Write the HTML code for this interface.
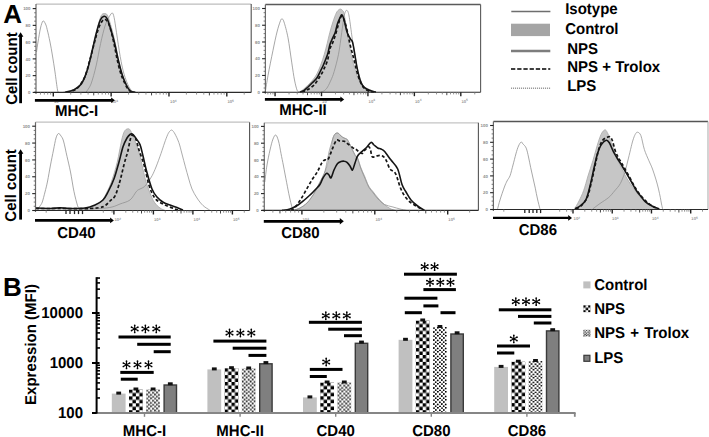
<!DOCTYPE html>
<html><head><meta charset="utf-8"><title>Figure</title>
<style>
html,body{margin:0;padding:0;background:#fff;width:709px;height:437px;overflow:hidden;}
svg{display:block;font-family:"Liberation Sans",sans-serif;}
text{text-rendering:geometricPrecision;}
</style></head><body>
<svg width="709" height="437" viewBox="0 0 709 437">
<defs><pattern id="ck0" patternUnits="userSpaceOnUse" width="6.90" height="6.90" x="129.00" y="389.50"><rect width="6.90" height="6.90" fill="#fff"/><rect width="3.45" height="3.45" fill="#000"/><rect x="3.45" y="3.45" width="3.45" height="3.45" fill="#000"/></pattern><pattern id="dt0" patternUnits="userSpaceOnUse" width="8.00" height="8.00" x="146.20" y="389.50"><rect width="8.00" height="8.00" fill="#fff"/><circle cx="1.00" cy="1.12" r="0.95" fill="#000"/><circle cx="4.88" cy="0.75" r="0.95" fill="#000"/><circle cx="2.88" cy="3.00" r="0.95" fill="#000"/><circle cx="6.88" cy="3.25" r="0.95" fill="#000"/><circle cx="0.88" cy="5.00" r="0.95" fill="#000"/><circle cx="4.75" cy="5.38" r="0.95" fill="#000"/><circle cx="2.75" cy="7.12" r="0.95" fill="#000"/><circle cx="7.00" cy="7.38" r="0.95" fill="#000"/></pattern><pattern id="ck1" patternUnits="userSpaceOnUse" width="6.90" height="6.90" x="224.60" y="368.20"><rect width="6.90" height="6.90" fill="#fff"/><rect width="3.45" height="3.45" fill="#000"/><rect x="3.45" y="3.45" width="3.45" height="3.45" fill="#000"/></pattern><pattern id="dt1" patternUnits="userSpaceOnUse" width="8.00" height="8.00" x="241.80" y="368.50"><rect width="8.00" height="8.00" fill="#fff"/><circle cx="1.00" cy="1.12" r="0.95" fill="#000"/><circle cx="4.88" cy="0.75" r="0.95" fill="#000"/><circle cx="2.88" cy="3.00" r="0.95" fill="#000"/><circle cx="6.88" cy="3.25" r="0.95" fill="#000"/><circle cx="0.88" cy="5.00" r="0.95" fill="#000"/><circle cx="4.75" cy="5.38" r="0.95" fill="#000"/><circle cx="2.75" cy="7.12" r="0.95" fill="#000"/><circle cx="7.00" cy="7.38" r="0.95" fill="#000"/></pattern><pattern id="ck2" patternUnits="userSpaceOnUse" width="6.90" height="6.90" x="320.20" y="382.50"><rect width="6.90" height="6.90" fill="#fff"/><rect width="3.45" height="3.45" fill="#000"/><rect x="3.45" y="3.45" width="3.45" height="3.45" fill="#000"/></pattern><pattern id="dt2" patternUnits="userSpaceOnUse" width="8.00" height="8.00" x="337.40" y="382.50"><rect width="8.00" height="8.00" fill="#fff"/><circle cx="1.00" cy="1.12" r="0.95" fill="#000"/><circle cx="4.88" cy="0.75" r="0.95" fill="#000"/><circle cx="2.88" cy="3.00" r="0.95" fill="#000"/><circle cx="6.88" cy="3.25" r="0.95" fill="#000"/><circle cx="0.88" cy="5.00" r="0.95" fill="#000"/><circle cx="4.75" cy="5.38" r="0.95" fill="#000"/><circle cx="2.75" cy="7.12" r="0.95" fill="#000"/><circle cx="7.00" cy="7.38" r="0.95" fill="#000"/></pattern><pattern id="ck3" patternUnits="userSpaceOnUse" width="6.90" height="6.90" x="415.80" y="320.50"><rect width="6.90" height="6.90" fill="#fff"/><rect width="3.45" height="3.45" fill="#000"/><rect x="3.45" y="3.45" width="3.45" height="3.45" fill="#000"/></pattern><pattern id="dt3" patternUnits="userSpaceOnUse" width="8.00" height="8.00" x="433.00" y="327.00"><rect width="8.00" height="8.00" fill="#fff"/><circle cx="1.00" cy="1.12" r="0.95" fill="#000"/><circle cx="4.88" cy="0.75" r="0.95" fill="#000"/><circle cx="2.88" cy="3.00" r="0.95" fill="#000"/><circle cx="6.88" cy="3.25" r="0.95" fill="#000"/><circle cx="0.88" cy="5.00" r="0.95" fill="#000"/><circle cx="4.75" cy="5.38" r="0.95" fill="#000"/><circle cx="2.75" cy="7.12" r="0.95" fill="#000"/><circle cx="7.00" cy="7.38" r="0.95" fill="#000"/></pattern><pattern id="ck4" patternUnits="userSpaceOnUse" width="6.90" height="6.90" x="511.40" y="361.70"><rect width="6.90" height="6.90" fill="#fff"/><rect width="3.45" height="3.45" fill="#000"/><rect x="3.45" y="3.45" width="3.45" height="3.45" fill="#000"/></pattern><pattern id="dt4" patternUnits="userSpaceOnUse" width="8.00" height="8.00" x="528.60" y="361.00"><rect width="8.00" height="8.00" fill="#fff"/><circle cx="1.00" cy="1.12" r="0.95" fill="#000"/><circle cx="4.88" cy="0.75" r="0.95" fill="#000"/><circle cx="2.88" cy="3.00" r="0.95" fill="#000"/><circle cx="6.88" cy="3.25" r="0.95" fill="#000"/><circle cx="0.88" cy="5.00" r="0.95" fill="#000"/><circle cx="4.75" cy="5.38" r="0.95" fill="#000"/><circle cx="2.75" cy="7.12" r="0.95" fill="#000"/><circle cx="7.00" cy="7.38" r="0.95" fill="#000"/></pattern><pattern id="ckL" patternUnits="userSpaceOnUse" width="5.00" height="5.00" x="583.20" y="305.20"><rect width="5.00" height="5.00" fill="#fff"/><rect width="2.50" height="2.50" fill="#000"/><rect x="2.50" y="2.50" width="2.50" height="2.50" fill="#000"/></pattern><pattern id="dtL" patternUnits="userSpaceOnUse" width="5.44" height="5.44" x="583.20" y="329.80"><rect width="5.44" height="5.44" fill="#fff"/><circle cx="0.68" cy="0.77" r="0.72" fill="#000"/><circle cx="3.31" cy="0.51" r="0.72" fill="#000"/><circle cx="1.95" cy="2.04" r="0.72" fill="#000"/><circle cx="4.67" cy="2.21" r="0.72" fill="#000"/><circle cx="0.59" cy="3.40" r="0.72" fill="#000"/><circle cx="3.23" cy="3.65" r="0.72" fill="#000"/><circle cx="1.87" cy="4.84" r="0.72" fill="#000"/><circle cx="4.76" cy="5.02" r="0.72" fill="#000"/></pattern></defs>
<path d="M63.3,92.2 C64.6,91.9 68.8,91.4 71.3,90.5 C73.8,89.6 76.3,88.9 78.3,87.0 C80.3,85.1 81.5,82.7 83.3,79.0 C85.1,75.3 87.1,70.9 88.9,65.0 C90.7,59.1 92.7,50.2 94.3,43.5 C95.9,36.8 97.1,29.7 98.3,25.0 C99.5,20.3 100.3,17.4 101.3,15.5 C102.3,13.6 103.3,13.6 104.3,13.5 C105.3,13.4 106.4,13.6 107.3,15.0 C108.2,16.4 108.9,19.1 109.8,22.0 C110.7,24.9 111.7,28.3 112.8,32.6 C113.9,36.9 115.2,42.6 116.3,48.0 C117.4,53.4 118.3,60.5 119.3,65.0 C120.3,69.5 121.2,72.1 122.3,75.0 C123.4,77.9 124.7,80.3 125.9,82.6 C127.1,84.9 127.9,87.4 129.3,89.0 C130.7,90.6 133.5,91.7 134.3,92.2 L134.3,92.4 L63.3,92.4 Z" fill="#c6c6c6" stroke="none"/>
<path d="M63.3,92.2 C64.6,91.9 68.8,91.4 71.3,90.5 C73.8,89.6 76.3,88.9 78.3,87.0 C80.3,85.1 81.5,82.7 83.3,79.0 C85.1,75.3 87.1,70.9 88.9,65.0 C90.7,59.1 92.7,50.2 94.3,43.5 C95.9,36.8 97.1,29.7 98.3,25.0 C99.5,20.3 100.3,17.4 101.3,15.5 C102.3,13.6 103.3,13.6 104.3,13.5 C105.3,13.4 106.4,13.6 107.3,15.0 C108.2,16.4 108.9,19.1 109.8,22.0 C110.7,24.9 111.7,28.3 112.8,32.6 C113.9,36.9 115.2,42.6 116.3,48.0 C117.4,53.4 118.3,60.5 119.3,65.0 C120.3,69.5 121.2,72.1 122.3,75.0 C123.4,77.9 124.7,80.3 125.9,82.6 C127.1,84.9 127.9,87.4 129.3,89.0 C130.7,90.6 133.5,91.7 134.3,92.2" fill="none" stroke="#adadad" stroke-width="0.9"/>
<path d="M36.5,52.0 C36.8,50.3 37.3,46.0 38.0,42.0 C38.7,38.0 39.7,31.5 40.5,28.0 C41.3,24.5 42.2,21.7 43.0,21.0 C43.8,20.3 44.8,22.6 45.5,24.0 C46.2,25.4 46.5,26.6 47.2,29.6 C48.0,32.6 49.1,37.6 50.0,42.0 C50.9,46.4 51.7,51.0 52.5,56.0 C53.3,61.0 54.2,66.3 55.0,72.0 C55.8,77.7 56.9,86.6 57.5,90.0 C58.1,93.4 58.6,91.8 58.8,92.2" fill="none" stroke="#8a8a8a" stroke-width="0.75"/>
<path d="M86.0,92.2 C86.8,90.8 89.3,88.5 91.0,84.0 C92.7,79.5 94.7,71.8 96.3,65.0 C97.9,58.2 99.1,50.0 100.6,43.5 C102.0,37.0 103.7,30.2 105.0,26.0 C106.3,21.8 107.1,20.7 108.3,18.5 C109.5,16.3 111.0,13.2 112.0,13.0 C113.0,12.8 113.3,14.1 114.1,17.4 C114.8,20.7 115.5,26.1 116.5,32.6 C117.5,39.1 119.0,49.6 120.2,56.5 C121.5,63.4 122.5,68.9 124.0,74.0 C125.5,79.1 127.5,84.0 129.0,87.0 C130.5,90.0 132.3,91.3 133.0,92.2" fill="none" stroke="#8f8f8f" stroke-width="0.75"/>
<path d="M65.3,92.2 C66.6,91.8 70.6,91.4 73.3,90.0 C76.0,88.6 79.0,87.3 81.3,84.0 C83.6,80.7 85.5,75.7 87.3,70.0 C89.1,64.3 90.8,56.2 92.3,50.0 C93.8,43.8 95.0,38.0 96.3,33.0 C97.6,28.0 99.0,22.8 100.3,20.0 C101.6,17.2 102.9,16.5 104.1,16.3 C105.3,16.1 106.3,17.1 107.3,19.0 C108.3,20.9 109.1,24.2 110.3,28.0 C111.5,31.8 113.0,36.7 114.3,42.0 C115.6,47.3 117.0,54.5 118.3,60.0 C119.6,65.5 121.0,70.8 122.3,75.0 C123.6,79.2 125.0,82.3 126.3,85.0 C127.6,87.7 128.8,89.8 130.3,91.0 C131.8,92.2 134.5,92.0 135.3,92.2" fill="none" stroke="#151515" stroke-width="1.6" stroke-linejoin="round"/>
<path d="M67.3,92.2 C68.8,91.7 73.5,91.4 76.3,89.0 C79.1,86.6 82.1,82.5 84.3,78.0 C86.5,73.5 87.6,67.8 89.3,62.0 C91.0,56.2 92.8,48.5 94.3,43.0 C95.8,37.5 97.0,32.7 98.3,29.0 C99.6,25.3 101.1,22.6 102.3,21.0 C103.5,19.4 104.3,19.2 105.3,19.5 C106.3,19.8 107.3,20.9 108.3,23.0 C109.3,25.1 110.3,28.3 111.3,32.0 C112.3,35.7 113.3,40.3 114.3,45.0 C115.3,49.7 116.3,55.5 117.3,60.0 C118.3,64.5 119.3,68.7 120.3,72.0 C121.3,75.3 122.1,77.3 123.3,80.0 C124.5,82.7 126.0,86.0 127.3,88.0 C128.6,90.0 130.6,91.5 131.3,92.2" fill="none" stroke="#151515" stroke-width="1.7" stroke-dasharray="3.2,2.2"/>
<line x1="36.0" y1="4.1" x2="251.2" y2="4.1" stroke="#bdbdbd" stroke-width="1.3"/>
<line x1="251.2" y1="4.1" x2="251.2" y2="92.4" stroke="#505050" stroke-width="1.1"/>
<line x1="36.0" y1="4.1" x2="36.0" y2="93.9" stroke="#6a6a6a" stroke-width="1.2"/>
<line x1="34.0" y1="92.4" x2="251.2" y2="92.4" stroke="#2a2a2a" stroke-width="1.1"/>
<line x1="32.7" y1="92.40" x2="36.0" y2="92.40" stroke="#222" stroke-width="1.1"/>
<line x1="34.2" y1="88.21" x2="36.0" y2="88.21" stroke="#666" stroke-width="0.9"/>
<line x1="34.2" y1="84.02" x2="36.0" y2="84.02" stroke="#666" stroke-width="0.9"/>
<line x1="34.2" y1="79.83" x2="36.0" y2="79.83" stroke="#666" stroke-width="0.9"/>
<line x1="32.7" y1="75.64" x2="36.0" y2="75.64" stroke="#222" stroke-width="1.1"/>
<line x1="34.2" y1="71.45" x2="36.0" y2="71.45" stroke="#666" stroke-width="0.9"/>
<line x1="34.2" y1="67.26" x2="36.0" y2="67.26" stroke="#666" stroke-width="0.9"/>
<line x1="34.2" y1="63.07" x2="36.0" y2="63.07" stroke="#666" stroke-width="0.9"/>
<line x1="32.7" y1="58.88" x2="36.0" y2="58.88" stroke="#222" stroke-width="1.1"/>
<line x1="34.2" y1="54.69" x2="36.0" y2="54.69" stroke="#666" stroke-width="0.9"/>
<line x1="34.2" y1="50.50" x2="36.0" y2="50.50" stroke="#666" stroke-width="0.9"/>
<line x1="34.2" y1="46.31" x2="36.0" y2="46.31" stroke="#666" stroke-width="0.9"/>
<line x1="32.7" y1="42.12" x2="36.0" y2="42.12" stroke="#222" stroke-width="1.1"/>
<line x1="34.2" y1="37.93" x2="36.0" y2="37.93" stroke="#666" stroke-width="0.9"/>
<line x1="34.2" y1="33.74" x2="36.0" y2="33.74" stroke="#666" stroke-width="0.9"/>
<line x1="34.2" y1="29.55" x2="36.0" y2="29.55" stroke="#666" stroke-width="0.9"/>
<line x1="32.7" y1="25.36" x2="36.0" y2="25.36" stroke="#222" stroke-width="1.1"/>
<line x1="34.2" y1="21.17" x2="36.0" y2="21.17" stroke="#666" stroke-width="0.9"/>
<line x1="34.2" y1="16.98" x2="36.0" y2="16.98" stroke="#666" stroke-width="0.9"/>
<line x1="34.2" y1="12.79" x2="36.0" y2="12.79" stroke="#666" stroke-width="0.9"/>
<line x1="32.7" y1="8.60" x2="36.0" y2="8.60" stroke="#222" stroke-width="1.1"/>
<text x="30.5" y="94.0" font-size="4.4" font-weight="bold" fill="#909090" text-anchor="end" font-family="'Liberation Sans', sans-serif">0</text>
<text x="30.5" y="77.2" font-size="4.4" font-weight="bold" fill="#909090" text-anchor="end" font-family="'Liberation Sans', sans-serif">20</text>
<text x="30.5" y="60.5" font-size="4.4" font-weight="bold" fill="#909090" text-anchor="end" font-family="'Liberation Sans', sans-serif">40</text>
<text x="30.5" y="43.7" font-size="4.4" font-weight="bold" fill="#909090" text-anchor="end" font-family="'Liberation Sans', sans-serif">60</text>
<text x="30.5" y="27.0" font-size="4.4" font-weight="bold" fill="#909090" text-anchor="end" font-family="'Liberation Sans', sans-serif">80</text>
<text x="30.5" y="10.2" font-size="4.4" font-weight="bold" fill="#909090" text-anchor="end" font-family="'Liberation Sans', sans-serif">100</text>
<line x1="40.47" y1="92.4" x2="40.47" y2="94.6" stroke="#777" stroke-width="0.8"/>
<line x1="44.34" y1="92.4" x2="44.34" y2="94.6" stroke="#777" stroke-width="0.8"/>
<line x1="47.70" y1="92.4" x2="47.70" y2="94.6" stroke="#777" stroke-width="0.8"/>
<line x1="50.65" y1="92.4" x2="50.65" y2="94.6" stroke="#777" stroke-width="0.8"/>
<line x1="53.30" y1="92.4" x2="53.30" y2="96.4" stroke="#222" stroke-width="1.4"/>
<line x1="70.71" y1="92.4" x2="70.71" y2="94.6" stroke="#777" stroke-width="0.8"/>
<line x1="80.89" y1="92.4" x2="80.89" y2="94.6" stroke="#777" stroke-width="0.8"/>
<line x1="88.12" y1="92.4" x2="88.12" y2="94.6" stroke="#777" stroke-width="0.8"/>
<line x1="93.72" y1="92.4" x2="93.72" y2="95.4" stroke="#444" stroke-width="1"/>
<line x1="98.30" y1="92.4" x2="98.30" y2="94.6" stroke="#777" stroke-width="0.8"/>
<line x1="102.17" y1="92.4" x2="102.17" y2="94.6" stroke="#777" stroke-width="0.8"/>
<line x1="105.53" y1="92.4" x2="105.53" y2="94.6" stroke="#777" stroke-width="0.8"/>
<line x1="108.49" y1="92.4" x2="108.49" y2="94.6" stroke="#777" stroke-width="0.8"/>
<line x1="111.13" y1="92.4" x2="111.13" y2="96.4" stroke="#222" stroke-width="1.4"/>
<line x1="128.54" y1="92.4" x2="128.54" y2="94.6" stroke="#777" stroke-width="0.8"/>
<line x1="138.73" y1="92.4" x2="138.73" y2="94.6" stroke="#777" stroke-width="0.8"/>
<line x1="145.95" y1="92.4" x2="145.95" y2="94.6" stroke="#777" stroke-width="0.8"/>
<line x1="151.56" y1="92.4" x2="151.56" y2="95.4" stroke="#444" stroke-width="1"/>
<line x1="156.14" y1="92.4" x2="156.14" y2="94.6" stroke="#777" stroke-width="0.8"/>
<line x1="160.01" y1="92.4" x2="160.01" y2="94.6" stroke="#777" stroke-width="0.8"/>
<line x1="163.36" y1="92.4" x2="163.36" y2="94.6" stroke="#777" stroke-width="0.8"/>
<line x1="166.32" y1="92.4" x2="166.32" y2="94.6" stroke="#777" stroke-width="0.8"/>
<line x1="168.97" y1="92.4" x2="168.97" y2="96.4" stroke="#222" stroke-width="1.4"/>
<line x1="186.38" y1="92.4" x2="186.38" y2="94.6" stroke="#777" stroke-width="0.8"/>
<line x1="196.56" y1="92.4" x2="196.56" y2="94.6" stroke="#777" stroke-width="0.8"/>
<line x1="203.79" y1="92.4" x2="203.79" y2="94.6" stroke="#777" stroke-width="0.8"/>
<line x1="209.39" y1="92.4" x2="209.39" y2="95.4" stroke="#444" stroke-width="1"/>
<line x1="213.97" y1="92.4" x2="213.97" y2="94.6" stroke="#777" stroke-width="0.8"/>
<line x1="217.84" y1="92.4" x2="217.84" y2="94.6" stroke="#777" stroke-width="0.8"/>
<line x1="221.20" y1="92.4" x2="221.20" y2="94.6" stroke="#777" stroke-width="0.8"/>
<line x1="224.15" y1="92.4" x2="224.15" y2="94.6" stroke="#777" stroke-width="0.8"/>
<line x1="226.80" y1="92.4" x2="226.80" y2="96.4" stroke="#222" stroke-width="1.4"/>
<line x1="244.21" y1="92.4" x2="244.21" y2="94.6" stroke="#777" stroke-width="0.8"/>
<text x="53.9" y="103.3" font-size="4.2" font-weight="bold" fill="#9a9a9a" font-family="'Liberation Sans', sans-serif">10<tspan dy="-1.7" font-size="3.2">2</tspan></text>
<text x="111.5" y="103.3" font-size="4.2" font-weight="bold" fill="#9a9a9a" font-family="'Liberation Sans', sans-serif">10<tspan dy="-1.7" font-size="3.2">3</tspan></text>
<text x="170.1" y="103.3" font-size="4.2" font-weight="bold" fill="#9a9a9a" font-family="'Liberation Sans', sans-serif">10<tspan dy="-1.7" font-size="3.2">4</tspan></text>
<text x="227.4" y="103.3" font-size="4.2" font-weight="bold" fill="#9a9a9a" font-family="'Liberation Sans', sans-serif">10<tspan dy="-1.7" font-size="3.2">5</tspan></text>
<path d="M298.5,92.0 C299.1,91.8 300.8,91.3 302.0,90.5 C303.2,89.7 304.6,88.2 305.9,87.0 C307.2,85.8 308.4,84.8 310.0,83.0 C311.6,81.2 313.9,79.0 315.7,76.0 C317.5,73.0 319.3,68.8 320.7,65.2 C322.1,61.6 323.2,57.9 324.3,54.3 C325.4,50.7 326.3,47.1 327.2,43.5 C328.1,39.9 328.8,36.2 329.8,32.6 C330.8,29.0 331.9,25.0 333.0,21.7 C334.1,18.4 335.4,14.9 336.3,13.0 C337.2,11.1 337.8,10.7 338.5,10.0 C339.2,9.3 340.0,9.0 340.7,9.1 C341.4,9.2 342.0,9.8 342.5,10.5 C343.0,11.2 343.3,10.4 343.9,13.0 C344.5,15.6 345.4,21.7 346.1,26.0 C346.8,30.3 347.6,35.0 348.3,39.0 C349.0,43.0 349.7,46.3 350.4,50.0 C351.1,53.7 351.7,57.4 352.6,61.0 C353.5,64.6 354.8,68.5 355.9,71.7 C357.0,74.9 357.7,77.9 359.1,80.4 C360.6,83.0 362.6,85.4 364.6,87.0 C366.6,88.6 369.1,89.4 371.0,90.2 C372.9,91.0 375.2,91.7 376.0,92.0 L376.0,92.2 L298.5,92.2 Z" fill="#c6c6c6" stroke="none"/>
<path d="M298.5,92.0 C299.1,91.8 300.8,91.3 302.0,90.5 C303.2,89.7 304.6,88.2 305.9,87.0 C307.2,85.8 308.4,84.8 310.0,83.0 C311.6,81.2 313.9,79.0 315.7,76.0 C317.5,73.0 319.3,68.8 320.7,65.2 C322.1,61.6 323.2,57.9 324.3,54.3 C325.4,50.7 326.3,47.1 327.2,43.5 C328.1,39.9 328.8,36.2 329.8,32.6 C330.8,29.0 331.9,25.0 333.0,21.7 C334.1,18.4 335.4,14.9 336.3,13.0 C337.2,11.1 337.8,10.7 338.5,10.0 C339.2,9.3 340.0,9.0 340.7,9.1 C341.4,9.2 342.0,9.8 342.5,10.5 C343.0,11.2 343.3,10.4 343.9,13.0 C344.5,15.6 345.4,21.7 346.1,26.0 C346.8,30.3 347.6,35.0 348.3,39.0 C349.0,43.0 349.7,46.3 350.4,50.0 C351.1,53.7 351.7,57.4 352.6,61.0 C353.5,64.6 354.8,68.5 355.9,71.7 C357.0,74.9 357.7,77.9 359.1,80.4 C360.6,83.0 362.6,85.4 364.6,87.0 C366.6,88.6 369.1,89.4 371.0,90.2 C372.9,91.0 375.2,91.7 376.0,92.0" fill="none" stroke="#adadad" stroke-width="0.9"/>
<path d="M265.6,90.0 C266.0,87.6 266.8,82.1 268.0,75.5 C269.2,68.9 271.5,57.5 273.0,50.3 C274.5,43.0 275.8,36.7 277.0,32.0 C278.2,27.3 279.2,24.2 280.0,22.0 C280.8,19.8 281.1,18.9 281.8,18.9 C282.5,18.9 283.0,18.9 284.0,22.0 C285.0,25.1 286.7,30.9 288.0,37.7 C289.3,44.5 290.7,55.9 291.8,62.9 C292.9,70.0 293.6,75.5 294.5,80.0 C295.4,84.5 296.3,88.0 297.0,90.0 C297.7,92.0 298.2,91.5 298.5,91.8" fill="none" stroke="#8a8a8a" stroke-width="0.75"/>
<path d="M321.0,92.0 C321.6,91.8 323.4,91.3 324.5,90.5 C325.6,89.7 326.5,88.8 327.6,87.0 C328.7,85.2 329.9,82.5 331.0,80.0 C332.1,77.5 332.9,76.0 334.1,71.7 C335.4,67.4 337.2,60.8 338.5,54.3 C339.8,47.8 340.8,38.8 341.7,32.6 C342.6,26.5 343.3,20.9 343.9,17.4 C344.5,13.9 345.0,12.7 345.5,11.5 C346.0,10.3 346.3,10.3 346.7,10.4 C347.1,10.5 347.6,10.6 348.0,11.8 C348.4,13.0 348.6,13.2 349.3,17.4 C350.0,21.6 351.3,31.9 352.0,37.0 C352.7,42.1 353.1,43.8 353.7,47.8 C354.3,51.8 355.2,56.9 355.9,60.9 C356.6,64.9 357.1,68.4 358.0,71.7 C358.9,75.0 360.0,78.4 361.0,81.0 C362.0,83.6 362.8,85.8 364.0,87.5 C365.2,89.2 366.7,90.2 368.0,91.0 C369.3,91.8 371.3,91.8 372.0,92.0" fill="none" stroke="#8f8f8f" stroke-width="0.75"/>
<path d="M300.0,92.0 C300.7,91.8 302.7,91.3 304.0,90.5 C305.3,89.7 306.7,88.2 308.0,87.0 C309.3,85.8 310.6,84.5 312.0,83.0 C313.4,81.5 315.4,80.1 316.7,78.3 C318.0,76.5 318.9,74.2 320.0,72.0 C321.1,69.8 322.0,68.2 323.3,65.2 C324.6,62.2 326.5,57.7 327.6,54.3 C328.7,50.9 329.1,47.5 329.8,45.0 C330.5,42.5 331.1,41.6 332.0,39.5 C332.9,37.4 334.3,35.2 335.2,32.6 C336.1,30.0 336.5,26.7 337.4,24.0 C338.3,21.3 340.0,17.8 340.7,16.3 C341.4,14.8 341.3,14.8 341.7,14.8 C342.1,14.8 342.5,15.3 343.0,16.5 C343.5,17.6 343.9,19.0 344.6,21.7 C345.3,24.4 346.2,29.7 347.2,32.6 C348.2,35.5 349.5,37.4 350.4,39.0 C351.3,40.6 351.9,39.9 352.6,42.4 C353.3,44.9 354.1,50.1 354.8,54.3 C355.5,58.5 356.1,63.1 357.0,67.4 C357.9,71.8 359.2,77.3 360.2,80.4 C361.2,83.5 361.9,84.6 363.0,86.0 C364.1,87.4 365.0,88.1 366.7,89.0 C368.4,89.9 371.4,91.0 373.0,91.5 C374.6,92.0 375.5,91.9 376.0,92.0" fill="none" stroke="#151515" stroke-width="1.6" stroke-linejoin="round"/>
<path d="M302.0,92.0 C303.0,91.6 306.0,90.7 308.0,89.5 C310.0,88.3 312.2,86.9 314.0,85.0 C315.8,83.1 317.4,80.5 319.0,78.0 C320.6,75.5 322.1,73.0 323.5,70.0 C324.9,67.0 326.6,63.5 327.6,60.0 C328.7,56.5 328.9,52.0 329.8,49.0 C330.7,46.0 332.0,44.7 333.0,42.0 C334.0,39.3 335.1,36.0 336.0,33.0 C336.9,30.0 337.8,26.5 338.5,24.0 C339.2,21.5 339.8,19.3 340.3,18.0 C340.8,16.7 341.2,16.2 341.7,16.3 C342.2,16.4 342.8,16.9 343.5,18.5 C344.2,20.1 345.2,22.9 346.0,26.0 C346.8,29.1 347.8,33.7 348.5,37.0 C349.2,40.3 349.7,43.1 350.4,46.0 C351.1,48.9 351.9,51.5 352.6,54.3 C353.3,57.1 354.1,60.0 354.8,63.0 C355.5,66.0 356.1,69.0 357.0,72.0 C357.9,75.0 358.8,78.3 360.0,81.0 C361.2,83.7 362.3,86.2 364.0,88.0 C365.7,89.8 368.3,90.8 370.0,91.5 C371.7,92.2 373.3,91.9 374.0,92.0" fill="none" stroke="#151515" stroke-width="1.7" stroke-dasharray="3.2,2.2"/>
<line x1="265.4" y1="4.5" x2="480.6" y2="4.5" stroke="#5a5a5a" stroke-width="1.3"/>
<line x1="480.6" y1="4.5" x2="480.6" y2="92.2" stroke="#5a5a5a" stroke-width="1.1"/>
<line x1="265.4" y1="4.5" x2="265.4" y2="93.7" stroke="#6a6a6a" stroke-width="1.2"/>
<line x1="263.4" y1="92.2" x2="480.6" y2="92.2" stroke="#2a2a2a" stroke-width="1.1"/>
<line x1="262.1" y1="92.20" x2="265.4" y2="92.20" stroke="#222" stroke-width="1.1"/>
<line x1="263.6" y1="88.02" x2="265.4" y2="88.02" stroke="#666" stroke-width="0.9"/>
<line x1="263.6" y1="83.83" x2="265.4" y2="83.83" stroke="#666" stroke-width="0.9"/>
<line x1="263.6" y1="79.64" x2="265.4" y2="79.64" stroke="#666" stroke-width="0.9"/>
<line x1="262.1" y1="75.46" x2="265.4" y2="75.46" stroke="#222" stroke-width="1.1"/>
<line x1="263.6" y1="71.28" x2="265.4" y2="71.28" stroke="#666" stroke-width="0.9"/>
<line x1="263.6" y1="67.09" x2="265.4" y2="67.09" stroke="#666" stroke-width="0.9"/>
<line x1="263.6" y1="62.91" x2="265.4" y2="62.91" stroke="#666" stroke-width="0.9"/>
<line x1="262.1" y1="58.72" x2="265.4" y2="58.72" stroke="#222" stroke-width="1.1"/>
<line x1="263.6" y1="54.53" x2="265.4" y2="54.53" stroke="#666" stroke-width="0.9"/>
<line x1="263.6" y1="50.35" x2="265.4" y2="50.35" stroke="#666" stroke-width="0.9"/>
<line x1="263.6" y1="46.16" x2="265.4" y2="46.16" stroke="#666" stroke-width="0.9"/>
<line x1="262.1" y1="41.98" x2="265.4" y2="41.98" stroke="#222" stroke-width="1.1"/>
<line x1="263.6" y1="37.79" x2="265.4" y2="37.79" stroke="#666" stroke-width="0.9"/>
<line x1="263.6" y1="33.61" x2="265.4" y2="33.61" stroke="#666" stroke-width="0.9"/>
<line x1="263.6" y1="29.42" x2="265.4" y2="29.42" stroke="#666" stroke-width="0.9"/>
<line x1="262.1" y1="25.24" x2="265.4" y2="25.24" stroke="#222" stroke-width="1.1"/>
<line x1="263.6" y1="21.05" x2="265.4" y2="21.05" stroke="#666" stroke-width="0.9"/>
<line x1="263.6" y1="16.87" x2="265.4" y2="16.87" stroke="#666" stroke-width="0.9"/>
<line x1="263.6" y1="12.69" x2="265.4" y2="12.69" stroke="#666" stroke-width="0.9"/>
<line x1="262.1" y1="8.50" x2="265.4" y2="8.50" stroke="#222" stroke-width="1.1"/>
<text x="259.9" y="93.8" font-size="4.4" font-weight="bold" fill="#909090" text-anchor="end" font-family="'Liberation Sans', sans-serif">0</text>
<text x="259.9" y="77.1" font-size="4.4" font-weight="bold" fill="#909090" text-anchor="end" font-family="'Liberation Sans', sans-serif">20</text>
<text x="259.9" y="60.3" font-size="4.4" font-weight="bold" fill="#909090" text-anchor="end" font-family="'Liberation Sans', sans-serif">40</text>
<text x="259.9" y="43.6" font-size="4.4" font-weight="bold" fill="#909090" text-anchor="end" font-family="'Liberation Sans', sans-serif">60</text>
<text x="259.9" y="26.8" font-size="4.4" font-weight="bold" fill="#909090" text-anchor="end" font-family="'Liberation Sans', sans-serif">80</text>
<text x="259.9" y="10.1" font-size="4.4" font-weight="bold" fill="#909090" text-anchor="end" font-family="'Liberation Sans', sans-serif">100</text>
<line x1="267.87" y1="92.2" x2="267.87" y2="94.4" stroke="#777" stroke-width="0.8"/>
<line x1="270.57" y1="92.2" x2="270.57" y2="94.4" stroke="#777" stroke-width="0.8"/>
<line x1="272.94" y1="92.2" x2="272.94" y2="94.4" stroke="#777" stroke-width="0.8"/>
<line x1="275.07" y1="92.2" x2="275.07" y2="96.2" stroke="#222" stroke-width="1.4"/>
<line x1="289.04" y1="92.2" x2="289.04" y2="94.4" stroke="#777" stroke-width="0.8"/>
<line x1="297.22" y1="92.2" x2="297.22" y2="94.4" stroke="#777" stroke-width="0.8"/>
<line x1="303.02" y1="92.2" x2="303.02" y2="94.4" stroke="#777" stroke-width="0.8"/>
<line x1="307.52" y1="92.2" x2="307.52" y2="95.2" stroke="#444" stroke-width="1"/>
<line x1="311.20" y1="92.2" x2="311.20" y2="94.4" stroke="#777" stroke-width="0.8"/>
<line x1="314.31" y1="92.2" x2="314.31" y2="94.4" stroke="#777" stroke-width="0.8"/>
<line x1="317.00" y1="92.2" x2="317.00" y2="94.4" stroke="#777" stroke-width="0.8"/>
<line x1="319.38" y1="92.2" x2="319.38" y2="94.4" stroke="#777" stroke-width="0.8"/>
<line x1="321.50" y1="92.2" x2="321.50" y2="96.2" stroke="#222" stroke-width="1.4"/>
<line x1="335.48" y1="92.2" x2="335.48" y2="94.4" stroke="#777" stroke-width="0.8"/>
<line x1="343.65" y1="92.2" x2="343.65" y2="94.4" stroke="#777" stroke-width="0.8"/>
<line x1="349.46" y1="92.2" x2="349.46" y2="94.4" stroke="#777" stroke-width="0.8"/>
<line x1="353.96" y1="92.2" x2="353.96" y2="95.2" stroke="#444" stroke-width="1"/>
<line x1="357.63" y1="92.2" x2="357.63" y2="94.4" stroke="#777" stroke-width="0.8"/>
<line x1="360.74" y1="92.2" x2="360.74" y2="94.4" stroke="#777" stroke-width="0.8"/>
<line x1="363.43" y1="92.2" x2="363.43" y2="94.4" stroke="#777" stroke-width="0.8"/>
<line x1="365.81" y1="92.2" x2="365.81" y2="94.4" stroke="#777" stroke-width="0.8"/>
<line x1="367.93" y1="92.2" x2="367.93" y2="96.2" stroke="#222" stroke-width="1.4"/>
<line x1="381.91" y1="92.2" x2="381.91" y2="94.4" stroke="#777" stroke-width="0.8"/>
<line x1="390.09" y1="92.2" x2="390.09" y2="94.4" stroke="#777" stroke-width="0.8"/>
<line x1="395.89" y1="92.2" x2="395.89" y2="94.4" stroke="#777" stroke-width="0.8"/>
<line x1="400.39" y1="92.2" x2="400.39" y2="95.2" stroke="#444" stroke-width="1"/>
<line x1="404.07" y1="92.2" x2="404.07" y2="94.4" stroke="#777" stroke-width="0.8"/>
<line x1="407.17" y1="92.2" x2="407.17" y2="94.4" stroke="#777" stroke-width="0.8"/>
<line x1="409.87" y1="92.2" x2="409.87" y2="94.4" stroke="#777" stroke-width="0.8"/>
<line x1="412.24" y1="92.2" x2="412.24" y2="94.4" stroke="#777" stroke-width="0.8"/>
<line x1="414.37" y1="92.2" x2="414.37" y2="96.2" stroke="#222" stroke-width="1.4"/>
<line x1="428.34" y1="92.2" x2="428.34" y2="94.4" stroke="#777" stroke-width="0.8"/>
<line x1="436.52" y1="92.2" x2="436.52" y2="94.4" stroke="#777" stroke-width="0.8"/>
<line x1="442.32" y1="92.2" x2="442.32" y2="94.4" stroke="#777" stroke-width="0.8"/>
<line x1="446.82" y1="92.2" x2="446.82" y2="95.2" stroke="#444" stroke-width="1"/>
<line x1="450.50" y1="92.2" x2="450.50" y2="94.4" stroke="#777" stroke-width="0.8"/>
<line x1="453.61" y1="92.2" x2="453.61" y2="94.4" stroke="#777" stroke-width="0.8"/>
<line x1="456.30" y1="92.2" x2="456.30" y2="94.4" stroke="#777" stroke-width="0.8"/>
<line x1="458.68" y1="92.2" x2="458.68" y2="94.4" stroke="#777" stroke-width="0.8"/>
<line x1="460.80" y1="92.2" x2="460.80" y2="96.2" stroke="#222" stroke-width="1.4"/>
<line x1="474.78" y1="92.2" x2="474.78" y2="94.4" stroke="#777" stroke-width="0.8"/>
<text x="322.1" y="103.1" font-size="4.2" font-weight="bold" fill="#9a9a9a" font-family="'Liberation Sans', sans-serif">10<tspan dy="-1.7" font-size="3.2">2</tspan></text>
<text x="368.6" y="103.1" font-size="4.2" font-weight="bold" fill="#9a9a9a" font-family="'Liberation Sans', sans-serif">10<tspan dy="-1.7" font-size="3.2">3</tspan></text>
<text x="415.0" y="103.1" font-size="4.2" font-weight="bold" fill="#9a9a9a" font-family="'Liberation Sans', sans-serif">10<tspan dy="-1.7" font-size="3.2">4</tspan></text>
<text x="461.4" y="103.1" font-size="4.2" font-weight="bold" fill="#9a9a9a" font-family="'Liberation Sans', sans-serif">10<tspan dy="-1.7" font-size="3.2">5</tspan></text>
<path d="M80.0,210.5 C80.8,210.3 83.0,209.9 85.0,209.3 C87.0,208.7 90.0,207.9 92.0,207.0 C94.0,206.1 95.2,205.2 97.0,204.0 C98.8,202.8 100.9,201.8 102.6,199.8 C104.3,197.8 105.6,194.8 107.0,192.0 C108.4,189.2 109.8,186.2 111.0,183.0 C112.2,179.8 113.2,176.5 114.3,173.0 C115.3,169.5 116.4,165.7 117.3,162.0 C118.2,158.3 118.8,154.5 119.5,151.0 C120.2,147.5 120.9,143.8 121.5,141.0 C122.1,138.2 122.7,135.8 123.3,134.0 C123.9,132.2 124.4,131.3 125.0,130.5 C125.6,129.7 126.2,129.2 127.0,129.0 C127.8,128.8 128.8,128.6 129.5,129.2 C130.2,129.8 130.8,130.9 131.5,132.5 C132.2,134.1 132.8,135.9 134.0,139.0 C135.2,142.1 137.5,147.0 138.8,151.3 C140.1,155.6 140.9,160.2 142.0,165.0 C143.1,169.8 144.2,175.3 145.5,180.0 C146.8,184.7 148.5,189.3 150.0,193.0 C151.5,196.7 152.7,199.8 154.4,202.3 C156.1,204.8 158.2,206.6 160.0,208.0 C161.8,209.4 164.5,210.1 165.4,210.5 L165.4,210.5 L80.0,210.5 Z" fill="#c6c6c6" stroke="none"/>
<path d="M80.0,210.5 C80.8,210.3 83.0,209.9 85.0,209.3 C87.0,208.7 90.0,207.9 92.0,207.0 C94.0,206.1 95.2,205.2 97.0,204.0 C98.8,202.8 100.9,201.8 102.6,199.8 C104.3,197.8 105.6,194.8 107.0,192.0 C108.4,189.2 109.8,186.2 111.0,183.0 C112.2,179.8 113.2,176.5 114.3,173.0 C115.3,169.5 116.4,165.7 117.3,162.0 C118.2,158.3 118.8,154.5 119.5,151.0 C120.2,147.5 120.9,143.8 121.5,141.0 C122.1,138.2 122.7,135.8 123.3,134.0 C123.9,132.2 124.4,131.3 125.0,130.5 C125.6,129.7 126.2,129.2 127.0,129.0 C127.8,128.8 128.8,128.6 129.5,129.2 C130.2,129.8 130.8,130.9 131.5,132.5 C132.2,134.1 132.8,135.9 134.0,139.0 C135.2,142.1 137.5,147.0 138.8,151.3 C140.1,155.6 140.9,160.2 142.0,165.0 C143.1,169.8 144.2,175.3 145.5,180.0 C146.8,184.7 148.5,189.3 150.0,193.0 C151.5,196.7 152.7,199.8 154.4,202.3 C156.1,204.8 158.2,206.6 160.0,208.0 C161.8,209.4 164.5,210.1 165.4,210.5" fill="none" stroke="#adadad" stroke-width="0.9"/>
<path d="M37.5,210.0 C37.9,209.3 39.2,207.3 40.0,206.0 C40.8,204.7 41.5,204.3 42.3,202.0 C43.1,199.7 44.1,195.5 45.0,192.0 C45.9,188.5 46.7,185.5 47.6,181.0 C48.5,176.5 49.5,170.2 50.5,165.0 C51.5,159.8 52.6,154.5 53.5,150.0 C54.4,145.5 55.2,140.8 56.0,138.0 C56.8,135.2 57.7,133.8 58.5,133.5 C59.3,133.2 60.2,134.8 61.0,136.0 C61.8,137.2 62.5,137.6 63.5,141.0 C64.5,144.4 65.8,151.2 67.0,156.4 C68.2,161.6 69.3,166.1 70.5,172.0 C71.7,177.9 72.8,186.1 74.0,191.7 C75.2,197.3 76.6,202.7 77.6,205.8 C78.6,208.9 79.6,209.5 80.0,210.2" fill="none" stroke="#8a8a8a" stroke-width="0.75"/>
<path d="M36.0,209.0 C43.3,209.0 69.3,209.1 80.0,209.0 C90.7,208.9 94.7,208.8 100.0,208.5 C105.3,208.2 108.7,207.8 112.0,207.0 C115.3,206.2 117.0,205.2 120.0,204.0 C123.0,202.8 127.2,202.1 130.0,200.0 C132.8,197.9 134.9,193.0 136.6,191.2 C138.3,189.4 138.7,189.8 140.0,189.0 C141.3,188.2 143.1,187.9 144.4,186.7 C145.7,185.5 146.7,183.8 148.0,182.0 C149.3,180.2 150.8,178.2 152.1,175.7 C153.4,173.2 154.5,170.7 156.0,167.0 C157.5,163.3 159.6,157.5 161.0,153.5 C162.4,149.5 163.4,146.2 164.5,143.0 C165.6,139.8 166.8,136.6 167.7,134.6 C168.6,132.6 169.3,131.7 170.0,131.0 C170.7,130.3 171.3,129.7 172.1,130.2 C172.9,130.7 173.9,132.0 175.0,134.0 C176.1,136.0 177.6,139.1 178.8,142.4 C180.0,145.7 180.9,149.9 182.0,154.0 C183.1,158.1 184.3,162.8 185.4,166.8 C186.5,170.8 187.4,174.3 188.5,178.0 C189.6,181.7 190.6,185.7 192.0,189.0 C193.4,192.3 195.2,195.2 197.0,198.0 C198.8,200.8 201.0,203.6 203.1,205.6 C205.2,207.6 208.7,209.4 209.8,210.2" fill="none" stroke="#8f8f8f" stroke-width="0.75"/>
<path d="M36.0,208.0 C38.3,208.1 46.0,208.5 50.0,208.5 C54.0,208.5 56.7,207.8 60.0,207.8 C63.3,207.8 65.8,208.5 70.0,208.5 C74.2,208.5 80.8,208.6 85.0,208.0 C89.2,207.4 92.0,206.3 95.0,205.0 C98.0,203.7 100.8,202.2 103.0,200.0 C105.2,197.8 106.1,195.7 108.0,192.0 C109.9,188.3 112.5,182.9 114.3,177.9 C116.1,172.9 117.5,167.2 119.0,162.0 C120.5,156.8 121.7,150.8 123.0,146.8 C124.3,142.8 125.8,140.1 127.0,138.0 C128.2,135.9 129.1,135.2 130.0,134.5 C130.9,133.8 131.4,133.6 132.2,134.0 C133.0,134.4 133.7,135.2 135.0,137.0 C136.3,138.8 138.7,141.4 140.0,144.6 C141.3,147.8 141.9,151.6 143.0,156.0 C144.1,160.4 145.1,165.7 146.6,171.2 C148.1,176.7 150.3,184.7 152.0,189.0 C153.7,193.3 155.1,194.8 157.0,197.0 C158.9,199.2 161.0,201.0 163.2,202.3 C165.4,203.6 167.7,204.1 170.0,205.0 C172.3,205.9 174.8,206.6 177.0,207.5 C179.2,208.4 182.0,209.8 183.0,210.2" fill="none" stroke="#151515" stroke-width="1.6" stroke-linejoin="round"/>
<path d="M36.0,208.5 C40.0,208.5 51.0,208.5 60.0,208.5 C69.0,208.5 83.3,208.7 90.0,208.5 C96.7,208.3 97.5,207.9 100.0,207.5 C102.5,207.1 103.0,207.1 104.7,206.0 C106.4,204.9 108.2,202.7 110.0,201.0 C111.8,199.3 113.6,198.6 115.2,195.6 C116.8,192.6 118.4,186.4 119.4,183.0 C120.5,179.6 120.8,177.8 121.5,175.0 C122.2,172.2 122.9,169.0 123.6,166.2 C124.3,163.4 125.1,160.4 125.8,158.0 C126.5,155.6 127.1,154.3 127.8,151.5 C128.5,148.7 129.3,143.5 129.9,141.0 C130.5,138.5 130.8,137.5 131.2,136.5 C131.6,135.5 131.9,135.1 132.5,135.2 C133.1,135.3 133.8,136.0 134.5,137.0 C135.2,138.0 135.8,138.8 136.5,141.0 C137.2,143.2 137.9,146.4 139.0,150.0 C140.1,153.6 142.1,158.6 143.3,162.4 C144.5,166.2 145.1,169.3 146.0,173.0 C146.9,176.7 147.8,181.2 148.8,184.5 C149.8,187.8 150.7,190.4 152.0,193.0 C153.3,195.6 154.4,198.0 156.6,200.0 C158.8,202.0 161.9,203.5 165.0,205.0 C168.1,206.5 172.5,208.1 175.0,209.0 C177.5,209.9 179.2,210.2 180.0,210.5" fill="none" stroke="#151515" stroke-width="1.7" stroke-dasharray="3.2,2.2"/>
<line x1="35.5" y1="122.2" x2="249.6" y2="122.2" stroke="#c0c0c0" stroke-width="1.3"/>
<line x1="249.6" y1="122.2" x2="249.6" y2="210.5" stroke="#505050" stroke-width="1.1"/>
<line x1="35.5" y1="122.2" x2="35.5" y2="212.0" stroke="#6a6a6a" stroke-width="1.2"/>
<line x1="33.5" y1="210.5" x2="249.6" y2="210.5" stroke="#2a2a2a" stroke-width="1.1"/>
<line x1="32.2" y1="210.50" x2="35.5" y2="210.50" stroke="#222" stroke-width="1.1"/>
<line x1="33.7" y1="206.28" x2="35.5" y2="206.28" stroke="#666" stroke-width="0.9"/>
<line x1="33.7" y1="202.07" x2="35.5" y2="202.07" stroke="#666" stroke-width="0.9"/>
<line x1="33.7" y1="197.85" x2="35.5" y2="197.85" stroke="#666" stroke-width="0.9"/>
<line x1="32.2" y1="193.64" x2="35.5" y2="193.64" stroke="#222" stroke-width="1.1"/>
<line x1="33.7" y1="189.43" x2="35.5" y2="189.43" stroke="#666" stroke-width="0.9"/>
<line x1="33.7" y1="185.21" x2="35.5" y2="185.21" stroke="#666" stroke-width="0.9"/>
<line x1="33.7" y1="181.00" x2="35.5" y2="181.00" stroke="#666" stroke-width="0.9"/>
<line x1="32.2" y1="176.78" x2="35.5" y2="176.78" stroke="#222" stroke-width="1.1"/>
<line x1="33.7" y1="172.56" x2="35.5" y2="172.56" stroke="#666" stroke-width="0.9"/>
<line x1="33.7" y1="168.35" x2="35.5" y2="168.35" stroke="#666" stroke-width="0.9"/>
<line x1="33.7" y1="164.13" x2="35.5" y2="164.13" stroke="#666" stroke-width="0.9"/>
<line x1="32.2" y1="159.92" x2="35.5" y2="159.92" stroke="#222" stroke-width="1.1"/>
<line x1="33.7" y1="155.70" x2="35.5" y2="155.70" stroke="#666" stroke-width="0.9"/>
<line x1="33.7" y1="151.49" x2="35.5" y2="151.49" stroke="#666" stroke-width="0.9"/>
<line x1="33.7" y1="147.28" x2="35.5" y2="147.28" stroke="#666" stroke-width="0.9"/>
<line x1="32.2" y1="143.06" x2="35.5" y2="143.06" stroke="#222" stroke-width="1.1"/>
<line x1="33.7" y1="138.84" x2="35.5" y2="138.84" stroke="#666" stroke-width="0.9"/>
<line x1="33.7" y1="134.63" x2="35.5" y2="134.63" stroke="#666" stroke-width="0.9"/>
<line x1="33.7" y1="130.42" x2="35.5" y2="130.42" stroke="#666" stroke-width="0.9"/>
<line x1="32.2" y1="126.20" x2="35.5" y2="126.20" stroke="#222" stroke-width="1.1"/>
<text x="30.0" y="212.1" font-size="4.4" font-weight="bold" fill="#909090" text-anchor="end" font-family="'Liberation Sans', sans-serif">0</text>
<text x="30.0" y="195.2" font-size="4.4" font-weight="bold" fill="#909090" text-anchor="end" font-family="'Liberation Sans', sans-serif">20</text>
<text x="30.0" y="178.4" font-size="4.4" font-weight="bold" fill="#909090" text-anchor="end" font-family="'Liberation Sans', sans-serif">40</text>
<text x="30.0" y="161.5" font-size="4.4" font-weight="bold" fill="#909090" text-anchor="end" font-family="'Liberation Sans', sans-serif">60</text>
<text x="30.0" y="144.7" font-size="4.4" font-weight="bold" fill="#909090" text-anchor="end" font-family="'Liberation Sans', sans-serif">80</text>
<text x="30.0" y="127.8" font-size="4.4" font-weight="bold" fill="#909090" text-anchor="end" font-family="'Liberation Sans', sans-serif">100</text>
<line x1="46.20" y1="210.5" x2="46.20" y2="212.7" stroke="#777" stroke-width="0.8"/>
<line x1="66.00" y1="210.5" x2="66.00" y2="214.1" stroke="#222" stroke-width="1.3"/>
<line x1="70.00" y1="210.5" x2="70.00" y2="214.1" stroke="#222" stroke-width="1.3"/>
<line x1="74.50" y1="210.5" x2="74.50" y2="214.1" stroke="#222" stroke-width="1.3"/>
<line x1="78.50" y1="210.5" x2="78.50" y2="214.1" stroke="#222" stroke-width="1.3"/>
<line x1="82.50" y1="210.5" x2="82.50" y2="214.1" stroke="#222" stroke-width="1.3"/>
<line x1="103.30" y1="210.5" x2="103.30" y2="212.7" stroke="#777" stroke-width="0.8"/>
<line x1="112.09" y1="210.5" x2="112.09" y2="212.7" stroke="#777" stroke-width="0.8"/>
<line x1="113.90" y1="210.5" x2="113.90" y2="214.5" stroke="#222" stroke-width="1.4"/>
<line x1="125.79" y1="210.5" x2="125.79" y2="212.7" stroke="#777" stroke-width="0.8"/>
<line x1="132.75" y1="210.5" x2="132.75" y2="212.7" stroke="#777" stroke-width="0.8"/>
<line x1="137.68" y1="210.5" x2="137.68" y2="212.7" stroke="#777" stroke-width="0.8"/>
<line x1="141.51" y1="210.5" x2="141.51" y2="213.5" stroke="#444" stroke-width="1"/>
<line x1="144.64" y1="210.5" x2="144.64" y2="212.7" stroke="#777" stroke-width="0.8"/>
<line x1="147.28" y1="210.5" x2="147.28" y2="212.7" stroke="#777" stroke-width="0.8"/>
<line x1="149.57" y1="210.5" x2="149.57" y2="212.7" stroke="#777" stroke-width="0.8"/>
<line x1="151.59" y1="210.5" x2="151.59" y2="212.7" stroke="#777" stroke-width="0.8"/>
<line x1="153.40" y1="210.5" x2="153.40" y2="214.5" stroke="#222" stroke-width="1.4"/>
<line x1="165.29" y1="210.5" x2="165.29" y2="212.7" stroke="#777" stroke-width="0.8"/>
<line x1="172.25" y1="210.5" x2="172.25" y2="212.7" stroke="#777" stroke-width="0.8"/>
<line x1="177.18" y1="210.5" x2="177.18" y2="212.7" stroke="#777" stroke-width="0.8"/>
<line x1="181.01" y1="210.5" x2="181.01" y2="213.5" stroke="#444" stroke-width="1"/>
<line x1="184.14" y1="210.5" x2="184.14" y2="212.7" stroke="#777" stroke-width="0.8"/>
<line x1="186.78" y1="210.5" x2="186.78" y2="212.7" stroke="#777" stroke-width="0.8"/>
<line x1="189.07" y1="210.5" x2="189.07" y2="212.7" stroke="#777" stroke-width="0.8"/>
<line x1="191.09" y1="210.5" x2="191.09" y2="212.7" stroke="#777" stroke-width="0.8"/>
<line x1="192.90" y1="210.5" x2="192.90" y2="214.5" stroke="#222" stroke-width="1.4"/>
<line x1="204.79" y1="210.5" x2="204.79" y2="212.7" stroke="#777" stroke-width="0.8"/>
<line x1="211.75" y1="210.5" x2="211.75" y2="212.7" stroke="#777" stroke-width="0.8"/>
<line x1="216.68" y1="210.5" x2="216.68" y2="212.7" stroke="#777" stroke-width="0.8"/>
<line x1="220.51" y1="210.5" x2="220.51" y2="213.5" stroke="#444" stroke-width="1"/>
<line x1="223.64" y1="210.5" x2="223.64" y2="212.7" stroke="#777" stroke-width="0.8"/>
<line x1="226.28" y1="210.5" x2="226.28" y2="212.7" stroke="#777" stroke-width="0.8"/>
<line x1="228.57" y1="210.5" x2="228.57" y2="212.7" stroke="#777" stroke-width="0.8"/>
<line x1="230.59" y1="210.5" x2="230.59" y2="212.7" stroke="#777" stroke-width="0.8"/>
<line x1="232.40" y1="210.5" x2="232.40" y2="214.5" stroke="#222" stroke-width="1.4"/>
<line x1="244.29" y1="210.5" x2="244.29" y2="212.7" stroke="#777" stroke-width="0.8"/>
<text x="114.5" y="221.4" font-size="4.2" font-weight="bold" fill="#9a9a9a" font-family="'Liberation Sans', sans-serif">10<tspan dy="-1.7" font-size="3.2">2</tspan></text>
<text x="154.0" y="221.4" font-size="4.2" font-weight="bold" fill="#9a9a9a" font-family="'Liberation Sans', sans-serif">10<tspan dy="-1.7" font-size="3.2">3</tspan></text>
<text x="193.6" y="221.4" font-size="4.2" font-weight="bold" fill="#9a9a9a" font-family="'Liberation Sans', sans-serif">10<tspan dy="-1.7" font-size="3.2">4</tspan></text>
<text x="233.0" y="221.4" font-size="4.2" font-weight="bold" fill="#9a9a9a" font-family="'Liberation Sans', sans-serif">10<tspan dy="-1.7" font-size="3.2">5</tspan></text>
<path d="M293.3,210.4 C294.4,210.0 297.7,209.2 300.0,208.0 C302.3,206.8 305.2,204.7 307.0,203.0 C308.8,201.3 309.6,200.0 311.0,198.0 C312.4,196.0 313.9,193.9 315.4,191.2 C316.9,188.5 318.5,185.0 320.0,182.0 C321.5,179.0 323.0,176.4 324.3,173.4 C325.6,170.4 326.7,167.3 327.6,164.2 C328.5,161.1 328.9,157.9 329.5,155.0 C330.1,152.1 330.7,149.8 331.3,147.0 C331.9,144.2 332.4,140.2 333.0,138.0 C333.6,135.8 334.3,134.8 335.0,134.0 C335.7,133.2 336.4,133.1 337.0,133.0 C337.6,132.9 338.0,133.0 338.7,133.5 C339.4,134.0 340.1,135.2 341.0,136.0 C341.9,136.8 343.1,137.5 344.0,138.0 C344.9,138.5 345.9,138.3 346.7,139.0 C347.5,139.7 348.0,140.7 348.9,142.4 C349.8,144.1 350.9,146.8 352.0,149.0 C353.1,151.2 354.4,154.2 355.4,155.7 C356.3,157.2 356.8,155.9 357.7,158.0 C358.6,160.1 359.9,165.1 361.0,168.0 C362.1,170.9 363.1,172.7 364.4,175.7 C365.7,178.7 367.2,183.3 368.7,186.0 C370.2,188.7 371.8,190.0 373.3,192.0 C374.9,194.0 376.1,195.9 378.0,198.0 C379.9,200.1 382.4,202.8 384.4,204.5 C386.4,206.2 388.2,207.5 390.0,208.5 C391.8,209.5 394.5,210.1 395.4,210.4 L395.4,210.4 L293.3,210.4 Z" fill="#c6c6c6" stroke="none"/>
<path d="M293.3,210.4 C294.4,210.0 297.7,209.2 300.0,208.0 C302.3,206.8 305.2,204.7 307.0,203.0 C308.8,201.3 309.6,200.0 311.0,198.0 C312.4,196.0 313.9,193.9 315.4,191.2 C316.9,188.5 318.5,185.0 320.0,182.0 C321.5,179.0 323.0,176.4 324.3,173.4 C325.6,170.4 326.7,167.3 327.6,164.2 C328.5,161.1 328.9,157.9 329.5,155.0 C330.1,152.1 330.7,149.8 331.3,147.0 C331.9,144.2 332.4,140.2 333.0,138.0 C333.6,135.8 334.3,134.8 335.0,134.0 C335.7,133.2 336.4,133.1 337.0,133.0 C337.6,132.9 338.0,133.0 338.7,133.5 C339.4,134.0 340.1,135.2 341.0,136.0 C341.9,136.8 343.1,137.5 344.0,138.0 C344.9,138.5 345.9,138.3 346.7,139.0 C347.5,139.7 348.0,140.7 348.9,142.4 C349.8,144.1 350.9,146.8 352.0,149.0 C353.1,151.2 354.4,154.2 355.4,155.7 C356.3,157.2 356.8,155.9 357.7,158.0 C358.6,160.1 359.9,165.1 361.0,168.0 C362.1,170.9 363.1,172.7 364.4,175.7 C365.7,178.7 367.2,183.3 368.7,186.0 C370.2,188.7 371.8,190.0 373.3,192.0 C374.9,194.0 376.1,195.9 378.0,198.0 C379.9,200.1 382.4,202.8 384.4,204.5 C386.4,206.2 388.2,207.5 390.0,208.5 C391.8,209.5 394.5,210.1 395.4,210.4" fill="none" stroke="#adadad" stroke-width="0.9"/>
<path d="M264.8,182.0 C265.2,179.2 266.1,170.3 267.0,165.0 C267.9,159.7 269.0,154.3 270.0,150.0 C271.0,145.7 272.0,141.5 273.0,139.0 C274.0,136.5 274.9,134.7 275.8,135.0 C276.7,135.3 277.6,137.9 278.5,141.0 C279.4,144.1 280.2,149.3 281.0,153.5 C281.8,157.7 282.6,161.2 283.5,166.0 C284.4,170.8 285.6,177.1 286.6,182.3 C287.6,187.5 288.6,192.9 289.5,197.0 C290.4,201.1 291.3,204.8 292.0,207.0 C292.7,209.2 293.2,209.8 293.5,210.4" fill="none" stroke="#8a8a8a" stroke-width="0.75"/>
<path d="M293.3,210.4 C294.4,210.0 297.7,209.2 300.0,208.0 C302.3,206.8 305.2,204.7 307.0,203.0 C308.8,201.3 309.6,200.0 311.0,198.0 C312.4,196.0 313.9,193.9 315.4,191.2 C316.9,188.5 318.5,185.0 320.0,182.0 C321.5,179.0 323.1,176.7 324.3,173.4 C325.5,170.1 326.2,165.6 327.0,162.0 C327.8,158.4 328.3,154.9 329.0,152.0 C329.7,149.1 330.3,146.9 331.0,144.6 C331.7,142.3 332.3,139.8 333.0,138.0 C333.7,136.2 334.3,134.8 335.0,134.0 C335.7,133.2 336.4,133.1 337.0,133.0 C337.6,132.9 338.0,133.0 338.7,133.5 C339.4,134.0 340.1,135.2 341.0,136.0 C341.9,136.8 343.1,137.5 344.0,138.0 C344.9,138.5 345.9,138.3 346.7,139.0 C347.5,139.7 348.0,140.7 348.9,142.4 C349.8,144.1 350.9,146.8 352.0,149.0 C353.1,151.2 354.4,154.0 355.4,155.7 C356.3,157.4 356.8,156.8 357.7,159.0 C358.6,161.2 359.9,166.0 361.0,169.0 C362.1,172.0 363.1,174.0 364.4,177.0 C365.7,180.0 367.2,184.3 368.7,187.0 C370.2,189.7 371.8,191.0 373.3,193.0 C374.9,195.0 376.1,197.1 378.0,199.0 C379.9,200.9 381.9,203.2 384.4,204.5 C386.9,205.8 390.4,206.2 393.0,207.0 C395.6,207.8 397.8,208.4 400.0,209.0 C402.2,209.6 405.4,210.2 406.5,210.4" fill="none" stroke="#8f8f8f" stroke-width="0.75"/>
<path d="M282.0,210.4 C283.3,210.2 287.3,209.9 290.0,209.0 C292.7,208.1 295.6,206.5 298.0,205.0 C300.4,203.5 302.4,201.7 304.4,200.0 C306.4,198.3 308.2,196.7 310.0,195.0 C311.8,193.3 313.4,191.8 315.0,190.0 C316.6,188.2 318.6,186.5 319.9,184.5 C321.2,182.5 321.9,179.8 323.0,178.0 C324.1,176.2 325.5,173.9 326.5,173.4 C327.5,172.9 328.2,174.2 329.0,175.0 C329.8,175.8 330.2,178.7 331.0,177.9 C331.8,177.1 332.9,172.4 334.0,170.0 C335.1,167.6 336.4,164.9 337.6,163.5 C338.8,162.1 339.9,161.9 341.0,161.5 C342.1,161.1 343.3,161.0 344.3,161.2 C345.3,161.3 346.1,161.6 347.0,162.4 C347.9,163.2 349.1,164.7 350.0,166.0 C350.9,167.3 351.7,170.5 352.5,170.0 C353.3,169.5 354.1,165.3 355.0,163.0 C355.9,160.7 356.4,157.9 357.6,156.0 C358.8,154.1 360.8,152.6 362.2,151.3 C363.6,150.0 364.5,149.5 366.0,148.0 C367.5,146.5 369.7,142.9 371.0,142.4 C372.3,141.9 372.9,144.1 374.0,145.0 C375.1,145.9 376.5,147.3 377.7,148.0 C378.9,148.7 379.9,148.4 381.0,149.0 C382.1,149.6 382.7,149.5 384.4,151.3 C386.1,153.2 388.8,157.2 391.0,160.1 C393.2,163.0 395.9,164.9 397.7,169.0 C399.5,173.1 400.6,180.7 402.0,184.5 C403.4,188.3 404.5,189.4 406.0,192.0 C407.5,194.6 409.2,197.8 411.0,200.0 C412.8,202.2 414.8,203.8 417.0,205.5 C419.2,207.2 423.1,209.6 424.3,210.4" fill="none" stroke="#151515" stroke-width="1.6" stroke-linejoin="round"/>
<path d="M291.0,210.4 C291.7,209.9 293.4,209.2 295.0,207.4 C296.6,205.6 298.7,202.6 300.6,199.6 C302.5,196.6 304.4,193.0 306.3,189.7 C308.2,186.4 310.1,182.9 312.0,179.8 C313.9,176.7 316.0,174.1 317.6,171.3 C319.2,168.5 320.7,164.7 321.9,162.8 C323.1,160.9 323.8,160.4 324.7,159.9 C325.6,159.4 326.7,160.7 327.6,159.9 C328.5,159.1 329.1,157.2 330.0,155.0 C330.9,152.8 332.1,149.3 333.2,146.8 C334.3,144.3 335.4,141.2 336.5,140.2 C337.6,139.2 338.7,140.8 340.0,141.0 C341.3,141.2 343.0,140.8 344.3,141.3 C345.6,141.8 346.5,142.9 348.0,144.0 C349.5,145.1 351.9,147.2 353.1,148.0 C354.4,148.8 354.7,148.5 355.5,149.0 C356.3,149.5 356.9,150.2 358.0,151.0 C359.1,151.8 361.0,153.7 362.2,153.5 C363.4,153.3 363.9,151.1 365.0,150.0 C366.1,148.9 367.9,146.8 368.8,146.8 C369.7,146.8 369.9,148.3 370.5,150.0 C371.1,151.7 371.3,155.8 372.2,156.8 C373.1,157.8 374.4,156.2 376.0,156.0 C377.6,155.8 380.3,155.0 382.0,155.7 C383.7,156.4 384.7,157.8 386.0,160.0 C387.3,162.2 388.4,166.8 390.0,169.0 C391.6,171.2 393.7,170.5 395.4,173.4 C397.1,176.3 398.6,183.1 400.0,186.7 C401.4,190.3 402.3,192.4 404.0,195.0 C405.7,197.6 407.8,200.1 410.0,202.0 C412.2,203.9 414.7,205.1 417.0,206.5 C419.3,207.9 422.8,209.8 424.0,210.4" fill="none" stroke="#151515" stroke-width="1.7" stroke-dasharray="3.2,2.2"/>
<line x1="264.3" y1="122.8" x2="478.4" y2="122.8" stroke="#c4c4c4" stroke-width="1.3"/>
<line x1="478.4" y1="122.8" x2="478.4" y2="210.4" stroke="#555555" stroke-width="1.1"/>
<line x1="264.3" y1="122.8" x2="264.3" y2="211.9" stroke="#6a6a6a" stroke-width="1.2"/>
<line x1="262.3" y1="210.4" x2="478.4" y2="210.4" stroke="#2a2a2a" stroke-width="1.1"/>
<line x1="261.0" y1="210.40" x2="264.3" y2="210.40" stroke="#222" stroke-width="1.1"/>
<line x1="262.5" y1="206.20" x2="264.3" y2="206.20" stroke="#666" stroke-width="0.9"/>
<line x1="262.5" y1="202.00" x2="264.3" y2="202.00" stroke="#666" stroke-width="0.9"/>
<line x1="262.5" y1="197.80" x2="264.3" y2="197.80" stroke="#666" stroke-width="0.9"/>
<line x1="261.0" y1="193.60" x2="264.3" y2="193.60" stroke="#222" stroke-width="1.1"/>
<line x1="262.5" y1="189.40" x2="264.3" y2="189.40" stroke="#666" stroke-width="0.9"/>
<line x1="262.5" y1="185.20" x2="264.3" y2="185.20" stroke="#666" stroke-width="0.9"/>
<line x1="262.5" y1="181.00" x2="264.3" y2="181.00" stroke="#666" stroke-width="0.9"/>
<line x1="261.0" y1="176.80" x2="264.3" y2="176.80" stroke="#222" stroke-width="1.1"/>
<line x1="262.5" y1="172.60" x2="264.3" y2="172.60" stroke="#666" stroke-width="0.9"/>
<line x1="262.5" y1="168.40" x2="264.3" y2="168.40" stroke="#666" stroke-width="0.9"/>
<line x1="262.5" y1="164.20" x2="264.3" y2="164.20" stroke="#666" stroke-width="0.9"/>
<line x1="261.0" y1="160.00" x2="264.3" y2="160.00" stroke="#222" stroke-width="1.1"/>
<line x1="262.5" y1="155.80" x2="264.3" y2="155.80" stroke="#666" stroke-width="0.9"/>
<line x1="262.5" y1="151.60" x2="264.3" y2="151.60" stroke="#666" stroke-width="0.9"/>
<line x1="262.5" y1="147.40" x2="264.3" y2="147.40" stroke="#666" stroke-width="0.9"/>
<line x1="261.0" y1="143.20" x2="264.3" y2="143.20" stroke="#222" stroke-width="1.1"/>
<line x1="262.5" y1="139.00" x2="264.3" y2="139.00" stroke="#666" stroke-width="0.9"/>
<line x1="262.5" y1="134.80" x2="264.3" y2="134.80" stroke="#666" stroke-width="0.9"/>
<line x1="262.5" y1="130.60" x2="264.3" y2="130.60" stroke="#666" stroke-width="0.9"/>
<line x1="261.0" y1="126.40" x2="264.3" y2="126.40" stroke="#222" stroke-width="1.1"/>
<text x="258.8" y="212.0" font-size="4.4" font-weight="bold" fill="#909090" text-anchor="end" font-family="'Liberation Sans', sans-serif">0</text>
<text x="258.8" y="195.2" font-size="4.4" font-weight="bold" fill="#909090" text-anchor="end" font-family="'Liberation Sans', sans-serif">20</text>
<text x="258.8" y="178.4" font-size="4.4" font-weight="bold" fill="#909090" text-anchor="end" font-family="'Liberation Sans', sans-serif">40</text>
<text x="258.8" y="161.6" font-size="4.4" font-weight="bold" fill="#909090" text-anchor="end" font-family="'Liberation Sans', sans-serif">60</text>
<text x="258.8" y="144.8" font-size="4.4" font-weight="bold" fill="#909090" text-anchor="end" font-family="'Liberation Sans', sans-serif">80</text>
<text x="258.8" y="128.0" font-size="4.4" font-weight="bold" fill="#909090" text-anchor="end" font-family="'Liberation Sans', sans-serif">100</text>
<line x1="272.89" y1="210.4" x2="272.89" y2="212.6" stroke="#777" stroke-width="0.8"/>
<line x1="279.95" y1="210.4" x2="279.95" y2="213.4" stroke="#444" stroke-width="1"/>
<line x1="285.73" y1="210.4" x2="285.73" y2="212.6" stroke="#777" stroke-width="0.8"/>
<line x1="290.61" y1="210.4" x2="290.61" y2="212.6" stroke="#777" stroke-width="0.8"/>
<line x1="294.84" y1="210.4" x2="294.84" y2="212.6" stroke="#777" stroke-width="0.8"/>
<line x1="298.56" y1="210.4" x2="298.56" y2="212.6" stroke="#777" stroke-width="0.8"/>
<line x1="301.90" y1="210.4" x2="301.90" y2="214.4" stroke="#222" stroke-width="1.4"/>
<line x1="323.85" y1="210.4" x2="323.85" y2="212.6" stroke="#777" stroke-width="0.8"/>
<line x1="336.68" y1="210.4" x2="336.68" y2="212.6" stroke="#777" stroke-width="0.8"/>
<line x1="345.79" y1="210.4" x2="345.79" y2="212.6" stroke="#777" stroke-width="0.8"/>
<line x1="352.85" y1="210.4" x2="352.85" y2="213.4" stroke="#444" stroke-width="1"/>
<line x1="358.63" y1="210.4" x2="358.63" y2="212.6" stroke="#777" stroke-width="0.8"/>
<line x1="363.51" y1="210.4" x2="363.51" y2="212.6" stroke="#777" stroke-width="0.8"/>
<line x1="367.74" y1="210.4" x2="367.74" y2="212.6" stroke="#777" stroke-width="0.8"/>
<line x1="371.46" y1="210.4" x2="371.46" y2="212.6" stroke="#777" stroke-width="0.8"/>
<line x1="374.80" y1="210.4" x2="374.80" y2="214.4" stroke="#222" stroke-width="1.4"/>
<line x1="396.75" y1="210.4" x2="396.75" y2="212.6" stroke="#777" stroke-width="0.8"/>
<line x1="409.58" y1="210.4" x2="409.58" y2="212.6" stroke="#777" stroke-width="0.8"/>
<line x1="418.69" y1="210.4" x2="418.69" y2="212.6" stroke="#777" stroke-width="0.8"/>
<line x1="425.75" y1="210.4" x2="425.75" y2="213.4" stroke="#444" stroke-width="1"/>
<line x1="431.53" y1="210.4" x2="431.53" y2="212.6" stroke="#777" stroke-width="0.8"/>
<line x1="436.41" y1="210.4" x2="436.41" y2="212.6" stroke="#777" stroke-width="0.8"/>
<line x1="440.64" y1="210.4" x2="440.64" y2="212.6" stroke="#777" stroke-width="0.8"/>
<line x1="444.36" y1="210.4" x2="444.36" y2="212.6" stroke="#777" stroke-width="0.8"/>
<line x1="447.70" y1="210.4" x2="447.70" y2="214.4" stroke="#222" stroke-width="1.4"/>
<line x1="469.65" y1="210.4" x2="469.65" y2="212.6" stroke="#777" stroke-width="0.8"/>
<text x="302.5" y="221.3" font-size="4.2" font-weight="bold" fill="#9a9a9a" font-family="'Liberation Sans', sans-serif">10<tspan dy="-1.7" font-size="3.2">3</tspan></text>
<text x="375.5" y="221.3" font-size="4.2" font-weight="bold" fill="#9a9a9a" font-family="'Liberation Sans', sans-serif">10<tspan dy="-1.7" font-size="3.2">4</tspan></text>
<text x="448.3" y="221.3" font-size="4.2" font-weight="bold" fill="#9a9a9a" font-family="'Liberation Sans', sans-serif">10<tspan dy="-1.7" font-size="3.2">5</tspan></text>
<path d="M574.6,208.8 C575.3,207.5 577.5,204.1 579.0,201.0 C580.5,197.9 582.2,194.7 583.7,190.5 C585.2,186.3 586.5,181.0 588.0,176.0 C589.5,171.0 591.5,165.4 592.9,160.7 C594.3,156.0 595.4,151.8 596.5,148.0 C597.6,144.2 598.7,140.6 599.7,137.9 C600.7,135.2 601.5,133.3 602.5,132.0 C603.5,130.7 604.5,129.6 605.4,129.9 C606.3,130.2 607.0,131.9 608.0,134.0 C609.0,136.1 610.1,139.6 611.2,142.4 C612.3,145.2 613.4,147.9 614.5,151.0 C615.6,154.1 616.7,157.5 618.0,160.7 C619.3,163.9 621.0,166.9 622.5,170.0 C624.0,173.1 625.5,176.1 627.2,179.0 C629.0,181.9 631.1,184.8 633.0,187.5 C634.9,190.2 636.8,192.8 638.6,195.0 C640.4,197.2 642.1,198.8 644.0,200.5 C645.9,202.2 648.2,204.1 650.0,205.3 C651.8,206.5 653.5,206.9 655.0,207.5 C656.5,208.1 658.5,208.6 659.2,208.8 L659.2,209.5 L574.6,209.5 Z" fill="#c6c6c6" stroke="none"/>
<path d="M574.6,208.8 C575.3,207.5 577.5,204.1 579.0,201.0 C580.5,197.9 582.2,194.7 583.7,190.5 C585.2,186.3 586.5,181.0 588.0,176.0 C589.5,171.0 591.5,165.4 592.9,160.7 C594.3,156.0 595.4,151.8 596.5,148.0 C597.6,144.2 598.7,140.6 599.7,137.9 C600.7,135.2 601.5,133.3 602.5,132.0 C603.5,130.7 604.5,129.6 605.4,129.9 C606.3,130.2 607.0,131.9 608.0,134.0 C609.0,136.1 610.1,139.6 611.2,142.4 C612.3,145.2 613.4,147.9 614.5,151.0 C615.6,154.1 616.7,157.5 618.0,160.7 C619.3,163.9 621.0,166.9 622.5,170.0 C624.0,173.1 625.5,176.1 627.2,179.0 C629.0,181.9 631.1,184.8 633.0,187.5 C634.9,190.2 636.8,192.8 638.6,195.0 C640.4,197.2 642.1,198.8 644.0,200.5 C645.9,202.2 648.2,204.1 650.0,205.3 C651.8,206.5 653.5,206.9 655.0,207.5 C656.5,208.1 658.5,208.6 659.2,208.8" fill="none" stroke="#adadad" stroke-width="0.9"/>
<path d="M497.6,208.8 C498.0,207.3 498.9,203.6 500.0,200.0 C501.1,196.4 503.2,190.2 504.4,187.0 C505.6,183.8 506.1,182.9 507.0,181.0 C507.9,179.1 509.1,178.3 510.1,175.6 C511.1,172.9 512.0,168.6 513.0,165.0 C514.0,161.4 515.0,157.1 515.9,153.9 C516.8,150.7 517.6,148.0 518.5,146.0 C519.4,144.0 520.4,142.3 521.1,142.0 C521.9,141.7 522.1,143.0 523.0,144.0 C523.9,145.0 525.3,145.9 526.2,148.1 C527.1,150.3 527.8,153.8 528.5,157.0 C529.2,160.2 530.0,164.1 530.7,167.6 C531.5,171.1 532.2,174.6 533.0,178.0 C533.8,181.4 534.5,184.7 535.3,188.2 C536.0,191.7 536.7,195.6 537.5,199.0 C538.3,202.4 539.5,207.2 539.9,208.8" fill="none" stroke="#8a8a8a" stroke-width="0.75"/>
<path d="M592.9,208.8 C594.1,207.9 597.3,205.4 600.0,203.5 C602.7,201.6 606.5,199.4 608.9,197.3 C611.3,195.2 612.6,193.3 614.5,191.0 C616.4,188.7 618.6,186.7 620.3,183.6 C622.0,180.5 623.7,175.8 624.9,172.2 C626.1,168.6 626.5,165.8 627.5,162.0 C628.5,158.2 629.7,153.0 630.6,149.3 C631.5,145.6 632.2,142.5 633.0,140.0 C633.8,137.5 634.5,135.7 635.2,134.4 C636.0,133.1 636.5,132.0 637.5,132.2 C638.5,132.4 639.8,132.8 640.9,135.6 C642.0,138.4 643.0,145.1 644.3,149.3 C645.6,153.5 647.5,157.4 648.9,160.7 C650.3,164.0 651.4,165.9 652.5,169.0 C653.6,172.1 654.8,175.7 655.8,179.0 C656.8,182.3 657.8,185.9 658.5,189.0 C659.2,192.1 659.8,194.8 660.3,197.3 C660.8,199.8 661.1,202.1 661.5,204.0 C661.9,205.9 662.4,208.0 662.6,208.8" fill="none" stroke="#8f8f8f" stroke-width="0.75"/>
<path d="M575.0,208.8 C575.8,208.3 578.2,207.5 580.0,206.0 C581.8,204.5 584.2,203.3 586.0,199.6 C587.8,195.9 589.3,188.9 590.6,183.6 C591.9,178.3 592.9,172.9 594.0,168.0 C595.1,163.1 596.3,157.6 597.4,153.9 C598.5,150.2 599.5,148.0 600.5,146.0 C601.5,144.0 602.5,143.0 603.5,142.0 C604.5,141.0 605.6,140.0 606.6,140.2 C607.6,140.4 608.4,141.1 609.5,143.0 C610.6,144.9 612.2,149.3 613.4,151.6 C614.6,153.9 615.4,155.1 616.5,157.0 C617.6,158.9 619.1,161.1 620.3,163.0 C621.5,164.9 622.4,166.6 623.5,168.5 C624.6,170.4 625.9,172.2 627.2,174.5 C628.5,176.8 630.0,179.3 631.5,182.0 C633.0,184.7 634.7,188.1 636.3,190.5 C637.9,192.9 639.5,194.6 641.0,196.5 C642.5,198.4 643.7,200.3 645.5,201.9 C647.3,203.5 649.7,204.8 652.0,206.0 C654.3,207.2 658.0,208.3 659.2,208.8" fill="none" stroke="#151515" stroke-width="1.6" stroke-linejoin="round"/>
<path d="M576.0,208.8 C576.8,208.3 579.2,207.8 581.0,206.0 C582.8,204.2 585.3,201.7 587.0,198.0 C588.7,194.3 589.7,189.3 591.0,184.0 C592.3,178.7 593.8,171.3 595.0,166.0 C596.2,160.7 597.0,155.8 598.0,152.0 C599.0,148.2 600.0,145.2 601.0,143.0 C602.0,140.8 603.0,139.9 604.0,139.0 C605.0,138.1 606.0,137.9 607.0,137.5 C608.0,137.1 609.1,136.1 610.0,136.7 C610.9,137.3 611.7,138.8 612.5,141.0 C613.3,143.2 614.1,147.3 615.0,150.0 C615.9,152.7 617.0,155.0 618.0,157.0 C619.0,159.0 619.8,160.0 621.0,162.0 C622.2,164.0 623.5,166.3 625.0,169.0 C626.5,171.7 628.2,174.7 630.0,178.0 C631.8,181.3 634.0,185.8 636.0,189.0 C638.0,192.2 640.0,194.7 642.0,197.0 C644.0,199.3 646.0,201.3 648.0,203.0 C650.0,204.7 652.2,206.0 654.0,207.0 C655.8,208.0 658.2,208.5 659.0,208.8" fill="none" stroke="#151515" stroke-width="1.7" stroke-dasharray="3.2,2.2"/>
<line x1="493.4" y1="121.5" x2="708.0" y2="121.5" stroke="#555555" stroke-width="1.3"/>
<line x1="708.0" y1="121.5" x2="708.0" y2="209.5" stroke="#b0b0b0" stroke-width="1.1"/>
<line x1="493.4" y1="121.5" x2="493.4" y2="211.0" stroke="#6a6a6a" stroke-width="1.2"/>
<line x1="491.4" y1="209.5" x2="708.0" y2="209.5" stroke="#2a2a2a" stroke-width="1.1"/>
<line x1="490.1" y1="209.50" x2="493.4" y2="209.50" stroke="#222" stroke-width="1.1"/>
<line x1="491.6" y1="205.30" x2="493.4" y2="205.30" stroke="#666" stroke-width="0.9"/>
<line x1="491.6" y1="201.10" x2="493.4" y2="201.10" stroke="#666" stroke-width="0.9"/>
<line x1="491.6" y1="196.90" x2="493.4" y2="196.90" stroke="#666" stroke-width="0.9"/>
<line x1="490.1" y1="192.70" x2="493.4" y2="192.70" stroke="#222" stroke-width="1.1"/>
<line x1="491.6" y1="188.50" x2="493.4" y2="188.50" stroke="#666" stroke-width="0.9"/>
<line x1="491.6" y1="184.30" x2="493.4" y2="184.30" stroke="#666" stroke-width="0.9"/>
<line x1="491.6" y1="180.10" x2="493.4" y2="180.10" stroke="#666" stroke-width="0.9"/>
<line x1="490.1" y1="175.90" x2="493.4" y2="175.90" stroke="#222" stroke-width="1.1"/>
<line x1="491.6" y1="171.70" x2="493.4" y2="171.70" stroke="#666" stroke-width="0.9"/>
<line x1="491.6" y1="167.50" x2="493.4" y2="167.50" stroke="#666" stroke-width="0.9"/>
<line x1="491.6" y1="163.30" x2="493.4" y2="163.30" stroke="#666" stroke-width="0.9"/>
<line x1="490.1" y1="159.10" x2="493.4" y2="159.10" stroke="#222" stroke-width="1.1"/>
<line x1="491.6" y1="154.90" x2="493.4" y2="154.90" stroke="#666" stroke-width="0.9"/>
<line x1="491.6" y1="150.70" x2="493.4" y2="150.70" stroke="#666" stroke-width="0.9"/>
<line x1="491.6" y1="146.50" x2="493.4" y2="146.50" stroke="#666" stroke-width="0.9"/>
<line x1="490.1" y1="142.30" x2="493.4" y2="142.30" stroke="#222" stroke-width="1.1"/>
<line x1="491.6" y1="138.10" x2="493.4" y2="138.10" stroke="#666" stroke-width="0.9"/>
<line x1="491.6" y1="133.90" x2="493.4" y2="133.90" stroke="#666" stroke-width="0.9"/>
<line x1="491.6" y1="129.70" x2="493.4" y2="129.70" stroke="#666" stroke-width="0.9"/>
<line x1="490.1" y1="125.50" x2="493.4" y2="125.50" stroke="#222" stroke-width="1.1"/>
<text x="487.9" y="211.1" font-size="4.4" font-weight="bold" fill="#909090" text-anchor="end" font-family="'Liberation Sans', sans-serif">0</text>
<text x="487.9" y="194.3" font-size="4.4" font-weight="bold" fill="#909090" text-anchor="end" font-family="'Liberation Sans', sans-serif">20</text>
<text x="487.9" y="177.5" font-size="4.4" font-weight="bold" fill="#909090" text-anchor="end" font-family="'Liberation Sans', sans-serif">40</text>
<text x="487.9" y="160.7" font-size="4.4" font-weight="bold" fill="#909090" text-anchor="end" font-family="'Liberation Sans', sans-serif">60</text>
<text x="487.9" y="143.9" font-size="4.4" font-weight="bold" fill="#909090" text-anchor="end" font-family="'Liberation Sans', sans-serif">80</text>
<text x="487.9" y="127.1" font-size="4.4" font-weight="bold" fill="#909090" text-anchor="end" font-family="'Liberation Sans', sans-serif">100</text>
<line x1="503.80" y1="209.5" x2="503.80" y2="211.7" stroke="#777" stroke-width="0.8"/>
<line x1="524.80" y1="209.5" x2="524.80" y2="213.1" stroke="#222" stroke-width="1.3"/>
<line x1="529.20" y1="209.5" x2="529.20" y2="213.1" stroke="#222" stroke-width="1.3"/>
<line x1="533.00" y1="209.5" x2="533.00" y2="213.1" stroke="#222" stroke-width="1.3"/>
<line x1="536.80" y1="209.5" x2="536.80" y2="213.1" stroke="#222" stroke-width="1.3"/>
<line x1="540.60" y1="209.5" x2="540.60" y2="213.1" stroke="#222" stroke-width="1.3"/>
<line x1="559.70" y1="209.5" x2="559.70" y2="211.7" stroke="#777" stroke-width="0.8"/>
<line x1="566.60" y1="209.5" x2="566.60" y2="211.7" stroke="#777" stroke-width="0.8"/>
<line x1="571.20" y1="209.5" x2="571.20" y2="211.7" stroke="#777" stroke-width="0.8"/>
<line x1="573.00" y1="209.5" x2="573.00" y2="213.5" stroke="#222" stroke-width="1.4"/>
<line x1="584.81" y1="209.5" x2="584.81" y2="211.7" stroke="#777" stroke-width="0.8"/>
<line x1="591.72" y1="209.5" x2="591.72" y2="211.7" stroke="#777" stroke-width="0.8"/>
<line x1="596.62" y1="209.5" x2="596.62" y2="211.7" stroke="#777" stroke-width="0.8"/>
<line x1="600.42" y1="209.5" x2="600.42" y2="212.5" stroke="#444" stroke-width="1"/>
<line x1="603.53" y1="209.5" x2="603.53" y2="211.7" stroke="#777" stroke-width="0.8"/>
<line x1="606.16" y1="209.5" x2="606.16" y2="211.7" stroke="#777" stroke-width="0.8"/>
<line x1="608.43" y1="209.5" x2="608.43" y2="211.7" stroke="#777" stroke-width="0.8"/>
<line x1="610.44" y1="209.5" x2="610.44" y2="211.7" stroke="#777" stroke-width="0.8"/>
<line x1="612.23" y1="209.5" x2="612.23" y2="213.5" stroke="#222" stroke-width="1.4"/>
<line x1="624.04" y1="209.5" x2="624.04" y2="211.7" stroke="#777" stroke-width="0.8"/>
<line x1="630.95" y1="209.5" x2="630.95" y2="211.7" stroke="#777" stroke-width="0.8"/>
<line x1="635.85" y1="209.5" x2="635.85" y2="211.7" stroke="#777" stroke-width="0.8"/>
<line x1="639.66" y1="209.5" x2="639.66" y2="212.5" stroke="#444" stroke-width="1"/>
<line x1="642.76" y1="209.5" x2="642.76" y2="211.7" stroke="#777" stroke-width="0.8"/>
<line x1="645.39" y1="209.5" x2="645.39" y2="211.7" stroke="#777" stroke-width="0.8"/>
<line x1="647.66" y1="209.5" x2="647.66" y2="211.7" stroke="#777" stroke-width="0.8"/>
<line x1="649.67" y1="209.5" x2="649.67" y2="211.7" stroke="#777" stroke-width="0.8"/>
<line x1="651.47" y1="209.5" x2="651.47" y2="213.5" stroke="#222" stroke-width="1.4"/>
<line x1="663.28" y1="209.5" x2="663.28" y2="211.7" stroke="#777" stroke-width="0.8"/>
<line x1="670.19" y1="209.5" x2="670.19" y2="211.7" stroke="#777" stroke-width="0.8"/>
<line x1="675.09" y1="209.5" x2="675.09" y2="211.7" stroke="#777" stroke-width="0.8"/>
<line x1="678.89" y1="209.5" x2="678.89" y2="212.5" stroke="#444" stroke-width="1"/>
<line x1="682.00" y1="209.5" x2="682.00" y2="211.7" stroke="#777" stroke-width="0.8"/>
<line x1="684.62" y1="209.5" x2="684.62" y2="211.7" stroke="#777" stroke-width="0.8"/>
<line x1="686.90" y1="209.5" x2="686.90" y2="211.7" stroke="#777" stroke-width="0.8"/>
<line x1="688.90" y1="209.5" x2="688.90" y2="211.7" stroke="#777" stroke-width="0.8"/>
<line x1="690.70" y1="209.5" x2="690.70" y2="213.5" stroke="#222" stroke-width="1.4"/>
<line x1="702.51" y1="209.5" x2="702.51" y2="211.7" stroke="#777" stroke-width="0.8"/>
<text x="573.6" y="220.4" font-size="4.2" font-weight="bold" fill="#9a9a9a" font-family="'Liberation Sans', sans-serif">10<tspan dy="-1.7" font-size="3.2">2</tspan></text>
<text x="612.1" y="220.4" font-size="4.2" font-weight="bold" fill="#9a9a9a" font-family="'Liberation Sans', sans-serif">10<tspan dy="-1.7" font-size="3.2">3</tspan></text>
<text x="652.0" y="220.4" font-size="4.2" font-weight="bold" fill="#9a9a9a" font-family="'Liberation Sans', sans-serif">10<tspan dy="-1.7" font-size="3.2">4</tspan></text>
<text x="691.3" y="220.4" font-size="4.2" font-weight="bold" fill="#9a9a9a" font-family="'Liberation Sans', sans-serif">10<tspan dy="-1.7" font-size="3.2">5</tspan></text>
<line x1="20.6" y1="103.2" x2="20.6" y2="35.2" stroke="#000" stroke-width="2.8"/><path d="M17.8,36.7 L20.6,32.2 L23.4,36.7 Z" fill="#000"/>
<line x1="20.6" y1="219.6" x2="20.6" y2="152.2" stroke="#000" stroke-width="2.8"/><path d="M17.8,153.7 L20.6,149.2 L23.4,153.7 Z" fill="#000"/>
<text transform="translate(16.60 68.60) rotate(-90) scale(1 1.040)" font-size="15.0" font-weight="bold" fill="#000" text-anchor="middle" font-family="'Liberation Sans', sans-serif" >Cell count</text>
<text transform="translate(16.20 185.40) rotate(-90) scale(1 1.040)" font-size="15.0" font-weight="bold" fill="#000" text-anchor="middle" font-family="'Liberation Sans', sans-serif" >Cell count</text>
<line x1="34.9" y1="100.3" x2="111.6" y2="100.3" stroke="#000" stroke-width="2.7"/><path d="M111.1,97.5 L114.9,100.3 L111.1,103.1 Z" fill="#000"/>
<line x1="264.9" y1="99.4" x2="340.9" y2="99.4" stroke="#000" stroke-width="2.7"/><path d="M340.4,96.6 L344.2,99.4 L340.4,102.2 Z" fill="#000"/>
<line x1="35.0" y1="220.4" x2="110.6" y2="220.4" stroke="#000" stroke-width="2.7"/><path d="M110.1,217.6 L113.9,220.4 L110.1,223.2 Z" fill="#000"/>
<line x1="263.8" y1="221.3" x2="340.3" y2="221.3" stroke="#000" stroke-width="2.7"/><path d="M339.8,218.1 L343.8,221.3 L339.8,224.5 Z" fill="#000"/>
<line x1="493.0" y1="217.9" x2="568.7" y2="217.9" stroke="#000" stroke-width="2.4"/><path d="M568.2,215.1 L572.0,217.9 L568.2,220.7 Z" fill="#000"/>
<text transform="translate(76.60 115.50) scale(1 1.040)" font-size="15.0" font-weight="bold" fill="#000" text-anchor="middle" font-family="'Liberation Sans', sans-serif" >MHC-I</text>
<text transform="translate(303.00 114.60) scale(1 1.040)" font-size="15.0" font-weight="bold" fill="#000" text-anchor="middle" font-family="'Liberation Sans', sans-serif" >MHC-II</text>
<text transform="translate(76.40 237.80) scale(1 1.040)" font-size="15.0" font-weight="bold" fill="#000" text-anchor="middle" font-family="'Liberation Sans', sans-serif" >CD40</text>
<text transform="translate(300.30 238.40) scale(1 1.040)" font-size="15.0" font-weight="bold" fill="#000" text-anchor="middle" font-family="'Liberation Sans', sans-serif" >CD80</text>
<text transform="translate(537.80 234.70) scale(1 1.040)" font-size="15.0" font-weight="bold" fill="#000" text-anchor="middle" font-family="'Liberation Sans', sans-serif" >CD86</text>
<text transform="translate(3.20 22.90) scale(1 1.000)" font-size="26.0" font-weight="bold" fill="#000" text-anchor="start" font-family="'Liberation Sans', sans-serif" >A</text>
<text transform="translate(3.00 295.90) scale(1 1.000)" font-size="26.0" font-weight="bold" fill="#000" text-anchor="start" font-family="'Liberation Sans', sans-serif" >B</text>
<line x1="511.3" y1="11.5" x2="550.4" y2="11.5" stroke="#6e6e6e" stroke-width="1.3"/>
<rect x="511" y="23.7" width="39" height="12.4" fill="#a5a5a5"/>
<line x1="511" y1="51" x2="550.3" y2="51" stroke="#7d7d7d" stroke-width="2.5"/>
<line x1="511" y1="69.1" x2="550.3" y2="69.1" stroke="#000" stroke-width="1.5" stroke-dasharray="4.3,1.9"/>
<line x1="511" y1="88.2" x2="550.3" y2="88.2" stroke="#9a9a9a" stroke-width="1.4" stroke-dasharray="1.1,0.9"/>
<text transform="translate(565.20 14.40) scale(1 1.040)" font-size="15.0" font-weight="bold" fill="#000" text-anchor="start" font-family="'Liberation Sans', sans-serif" >Isotype</text>
<text transform="translate(565.20 34.40) scale(1 1.040)" font-size="15.0" font-weight="bold" fill="#000" text-anchor="start" font-family="'Liberation Sans', sans-serif" >Control</text>
<text transform="translate(567.20 53.90) scale(1 1.040)" font-size="15.0" font-weight="bold" fill="#000" text-anchor="start" font-family="'Liberation Sans', sans-serif" >NPS</text>
<text transform="translate(567.20 72.30) scale(1 1.040)" font-size="15.0" font-weight="bold" fill="#000" text-anchor="start" font-family="'Liberation Sans', sans-serif" >NPS + Trolox</text>
<text transform="translate(567.20 91.10) scale(1 1.040)" font-size="15.0" font-weight="bold" fill="#000" text-anchor="start" font-family="'Liberation Sans', sans-serif" >LPS</text>
<rect x="111.8" y="393.6" width="13.8" height="19.4" fill="#c0c0c0"/>
<rect x="116.3" y="391.6" width="4.8" height="3" fill="#111"/>
<rect x="129.0" y="389.5" width="13.8" height="23.5" fill="url(#ck0)"/>
<rect x="133.5" y="387.5" width="4.8" height="3" fill="#111"/>
<rect x="146.2" y="389.5" width="13.8" height="23.5" fill="url(#dt0)"/>
<rect x="150.7" y="387.5" width="4.8" height="3" fill="#111"/>
<rect x="164.1" y="385.0" width="12.4" height="28.0" fill="#7f7f7f" stroke="#3a3a3a" stroke-width="1.4"/>
<rect x="167.9" y="382.3" width="4.8" height="3" fill="#111"/>
<path d="M134.70,325.30 L134.70,332.50 M131.52,327.21 L137.88,330.59 M131.52,330.59 L137.88,327.21" stroke="#000" stroke-width="1.15" fill="none"/><circle cx="134.70" cy="325.30" r="0.85" fill="#000"/><circle cx="134.70" cy="332.50" r="0.85" fill="#000"/><circle cx="131.52" cy="327.21" r="0.85" fill="#000"/><circle cx="137.88" cy="330.59" r="0.85" fill="#000"/><circle cx="131.52" cy="330.59" r="0.85" fill="#000"/><circle cx="137.88" cy="327.21" r="0.85" fill="#000"/>
<path d="M145.40,325.30 L145.40,332.50 M142.22,327.21 L148.58,330.59 M142.22,330.59 L148.58,327.21" stroke="#000" stroke-width="1.15" fill="none"/><circle cx="145.40" cy="325.30" r="0.85" fill="#000"/><circle cx="145.40" cy="332.50" r="0.85" fill="#000"/><circle cx="142.22" cy="327.21" r="0.85" fill="#000"/><circle cx="148.58" cy="330.59" r="0.85" fill="#000"/><circle cx="142.22" cy="330.59" r="0.85" fill="#000"/><circle cx="148.58" cy="327.21" r="0.85" fill="#000"/>
<path d="M156.30,325.30 L156.30,332.50 M153.12,327.21 L159.48,330.59 M153.12,330.59 L159.48,327.21" stroke="#000" stroke-width="1.15" fill="none"/><circle cx="156.30" cy="325.30" r="0.85" fill="#000"/><circle cx="156.30" cy="332.50" r="0.85" fill="#000"/><circle cx="153.12" cy="327.21" r="0.85" fill="#000"/><circle cx="159.48" cy="330.59" r="0.85" fill="#000"/><circle cx="153.12" cy="330.59" r="0.85" fill="#000"/><circle cx="159.48" cy="327.21" r="0.85" fill="#000"/>
<rect x="118.5" y="335.5" width="52.2" height="3" fill="#000"/>
<rect x="137.2" y="342.8" width="33.5" height="3" fill="#000"/>
<rect x="153.7" y="350.2" width="17.0" height="3" fill="#000"/>
<path d="M126.50,361.20 L126.50,368.40 M123.32,363.11 L129.68,366.49 M123.32,366.49 L129.68,363.11" stroke="#000" stroke-width="1.15" fill="none"/><circle cx="126.50" cy="361.20" r="0.85" fill="#000"/><circle cx="126.50" cy="368.40" r="0.85" fill="#000"/><circle cx="123.32" cy="363.11" r="0.85" fill="#000"/><circle cx="129.68" cy="366.49" r="0.85" fill="#000"/><circle cx="123.32" cy="366.49" r="0.85" fill="#000"/><circle cx="129.68" cy="363.11" r="0.85" fill="#000"/>
<path d="M137.50,361.20 L137.50,368.40 M134.32,363.11 L140.68,366.49 M134.32,366.49 L140.68,363.11" stroke="#000" stroke-width="1.15" fill="none"/><circle cx="137.50" cy="361.20" r="0.85" fill="#000"/><circle cx="137.50" cy="368.40" r="0.85" fill="#000"/><circle cx="134.32" cy="363.11" r="0.85" fill="#000"/><circle cx="140.68" cy="366.49" r="0.85" fill="#000"/><circle cx="134.32" cy="366.49" r="0.85" fill="#000"/><circle cx="140.68" cy="363.11" r="0.85" fill="#000"/>
<path d="M148.50,361.20 L148.50,368.40 M145.32,363.11 L151.68,366.49 M145.32,366.49 L151.68,363.11" stroke="#000" stroke-width="1.15" fill="none"/><circle cx="148.50" cy="361.20" r="0.85" fill="#000"/><circle cx="148.50" cy="368.40" r="0.85" fill="#000"/><circle cx="145.32" cy="363.11" r="0.85" fill="#000"/><circle cx="151.68" cy="366.49" r="0.85" fill="#000"/><circle cx="145.32" cy="366.49" r="0.85" fill="#000"/><circle cx="151.68" cy="363.11" r="0.85" fill="#000"/>
<rect x="120.3" y="370.9" width="33.4" height="3" fill="#000"/>
<rect x="120.8" y="377.7" width="16.9" height="3" fill="#000"/>
<text transform="translate(144.50 435.90) scale(1 1.040)" font-size="15.0" font-weight="bold" fill="#000" text-anchor="middle" font-family="'Liberation Sans', sans-serif" >MHC-I</text>
<rect x="207.4" y="369.4" width="13.8" height="43.6" fill="#c0c0c0"/>
<rect x="211.9" y="367.4" width="4.8" height="3" fill="#111"/>
<rect x="224.6" y="368.2" width="13.8" height="44.8" fill="url(#ck1)"/>
<rect x="229.1" y="366.2" width="4.8" height="3" fill="#111"/>
<rect x="241.8" y="368.5" width="13.8" height="44.5" fill="url(#dt1)"/>
<rect x="246.3" y="366.5" width="4.8" height="3" fill="#111"/>
<rect x="259.7" y="363.8" width="12.4" height="49.2" fill="#7f7f7f" stroke="#3a3a3a" stroke-width="1.4"/>
<rect x="263.5" y="361.1" width="4.8" height="3" fill="#111"/>
<path d="M229.50,329.40 L229.50,336.60 M226.32,331.31 L232.68,334.69 M226.32,334.69 L232.68,331.31" stroke="#000" stroke-width="1.15" fill="none"/><circle cx="229.50" cy="329.40" r="0.85" fill="#000"/><circle cx="229.50" cy="336.60" r="0.85" fill="#000"/><circle cx="226.32" cy="331.31" r="0.85" fill="#000"/><circle cx="232.68" cy="334.69" r="0.85" fill="#000"/><circle cx="226.32" cy="334.69" r="0.85" fill="#000"/><circle cx="232.68" cy="331.31" r="0.85" fill="#000"/>
<path d="M240.40,329.40 L240.40,336.60 M237.22,331.31 L243.58,334.69 M237.22,334.69 L243.58,331.31" stroke="#000" stroke-width="1.15" fill="none"/><circle cx="240.40" cy="329.40" r="0.85" fill="#000"/><circle cx="240.40" cy="336.60" r="0.85" fill="#000"/><circle cx="237.22" cy="331.31" r="0.85" fill="#000"/><circle cx="243.58" cy="334.69" r="0.85" fill="#000"/><circle cx="237.22" cy="334.69" r="0.85" fill="#000"/><circle cx="243.58" cy="331.31" r="0.85" fill="#000"/>
<path d="M251.30,329.40 L251.30,336.60 M248.12,331.31 L254.48,334.69 M248.12,334.69 L254.48,331.31" stroke="#000" stroke-width="1.15" fill="none"/><circle cx="251.30" cy="329.40" r="0.85" fill="#000"/><circle cx="251.30" cy="336.60" r="0.85" fill="#000"/><circle cx="248.12" cy="331.31" r="0.85" fill="#000"/><circle cx="254.48" cy="334.69" r="0.85" fill="#000"/><circle cx="248.12" cy="334.69" r="0.85" fill="#000"/><circle cx="254.48" cy="331.31" r="0.85" fill="#000"/>
<rect x="213.4" y="339.6" width="53.0" height="3" fill="#000"/>
<rect x="232.7" y="346.7" width="33.7" height="3" fill="#000"/>
<rect x="248.5" y="353.9" width="17.9" height="3" fill="#000"/>
<text transform="translate(240.10 435.90) scale(1 1.040)" font-size="15.0" font-weight="bold" fill="#000" text-anchor="middle" font-family="'Liberation Sans', sans-serif" >MHC-II</text>
<rect x="303.0" y="397.4" width="13.8" height="15.6" fill="#c0c0c0"/>
<rect x="307.5" y="395.4" width="4.8" height="3" fill="#111"/>
<rect x="320.2" y="382.5" width="13.8" height="30.5" fill="url(#ck2)"/>
<rect x="324.7" y="380.5" width="4.8" height="3" fill="#111"/>
<rect x="337.4" y="382.5" width="13.8" height="30.5" fill="url(#dt2)"/>
<rect x="341.9" y="380.5" width="4.8" height="3" fill="#111"/>
<rect x="355.3" y="343.3" width="12.4" height="69.7" fill="#7f7f7f" stroke="#3a3a3a" stroke-width="1.4"/>
<rect x="359.1" y="340.6" width="4.8" height="3" fill="#111"/>
<path d="M325.80,312.10 L325.80,319.30 M322.62,314.01 L328.98,317.39 M322.62,317.39 L328.98,314.01" stroke="#000" stroke-width="1.15" fill="none"/><circle cx="325.80" cy="312.10" r="0.85" fill="#000"/><circle cx="325.80" cy="319.30" r="0.85" fill="#000"/><circle cx="322.62" cy="314.01" r="0.85" fill="#000"/><circle cx="328.98" cy="317.39" r="0.85" fill="#000"/><circle cx="322.62" cy="317.39" r="0.85" fill="#000"/><circle cx="328.98" cy="314.01" r="0.85" fill="#000"/>
<path d="M336.30,312.10 L336.30,319.30 M333.12,314.01 L339.48,317.39 M333.12,317.39 L339.48,314.01" stroke="#000" stroke-width="1.15" fill="none"/><circle cx="336.30" cy="312.10" r="0.85" fill="#000"/><circle cx="336.30" cy="319.30" r="0.85" fill="#000"/><circle cx="333.12" cy="314.01" r="0.85" fill="#000"/><circle cx="339.48" cy="317.39" r="0.85" fill="#000"/><circle cx="333.12" cy="317.39" r="0.85" fill="#000"/><circle cx="339.48" cy="314.01" r="0.85" fill="#000"/>
<path d="M346.80,312.10 L346.80,319.30 M343.62,314.01 L349.98,317.39 M343.62,317.39 L349.98,314.01" stroke="#000" stroke-width="1.15" fill="none"/><circle cx="346.80" cy="312.10" r="0.85" fill="#000"/><circle cx="346.80" cy="319.30" r="0.85" fill="#000"/><circle cx="343.62" cy="314.01" r="0.85" fill="#000"/><circle cx="349.98" cy="317.39" r="0.85" fill="#000"/><circle cx="343.62" cy="317.39" r="0.85" fill="#000"/><circle cx="349.98" cy="314.01" r="0.85" fill="#000"/>
<rect x="308.9" y="320.8" width="53.0" height="3" fill="#000"/>
<rect x="328.2" y="327.7" width="33.7" height="3" fill="#000"/>
<rect x="344.0" y="334.2" width="17.9" height="3" fill="#000"/>
<path d="M326.20,358.40 L326.20,365.60 M323.02,360.31 L329.38,363.69 M323.02,363.69 L329.38,360.31" stroke="#000" stroke-width="1.15" fill="none"/><circle cx="326.20" cy="358.40" r="0.85" fill="#000"/><circle cx="326.20" cy="365.60" r="0.85" fill="#000"/><circle cx="323.02" cy="360.31" r="0.85" fill="#000"/><circle cx="329.38" cy="363.69" r="0.85" fill="#000"/><circle cx="323.02" cy="363.69" r="0.85" fill="#000"/><circle cx="329.38" cy="360.31" r="0.85" fill="#000"/>
<rect x="309.8" y="367.9" width="32.7" height="3" fill="#000"/>
<rect x="309.8" y="375.0" width="17.0" height="3" fill="#000"/>
<text transform="translate(335.70 435.90) scale(1 1.040)" font-size="15.0" font-weight="bold" fill="#000" text-anchor="middle" font-family="'Liberation Sans', sans-serif" >CD40</text>
<rect x="398.6" y="339.8" width="13.8" height="73.2" fill="#c0c0c0"/>
<rect x="403.1" y="337.8" width="4.8" height="3" fill="#111"/>
<rect x="415.8" y="320.5" width="13.8" height="92.5" fill="url(#ck3)"/>
<rect x="420.3" y="318.5" width="4.8" height="3" fill="#111"/>
<rect x="433.0" y="327.0" width="13.8" height="86.0" fill="url(#dt3)"/>
<rect x="437.5" y="325.0" width="4.8" height="3" fill="#111"/>
<rect x="450.9" y="334.0" width="12.4" height="79.0" fill="#7f7f7f" stroke="#3a3a3a" stroke-width="1.4"/>
<rect x="454.7" y="331.3" width="4.8" height="3" fill="#111"/>
<path d="M424.70,263.00 L424.70,270.20 M421.52,264.91 L427.88,268.29 M421.52,268.29 L427.88,264.91" stroke="#000" stroke-width="1.15" fill="none"/><circle cx="424.70" cy="263.00" r="0.85" fill="#000"/><circle cx="424.70" cy="270.20" r="0.85" fill="#000"/><circle cx="421.52" cy="264.91" r="0.85" fill="#000"/><circle cx="427.88" cy="268.29" r="0.85" fill="#000"/><circle cx="421.52" cy="268.29" r="0.85" fill="#000"/><circle cx="427.88" cy="264.91" r="0.85" fill="#000"/>
<path d="M434.60,263.00 L434.60,270.20 M431.42,264.91 L437.78,268.29 M431.42,268.29 L437.78,264.91" stroke="#000" stroke-width="1.15" fill="none"/><circle cx="434.60" cy="263.00" r="0.85" fill="#000"/><circle cx="434.60" cy="270.20" r="0.85" fill="#000"/><circle cx="431.42" cy="264.91" r="0.85" fill="#000"/><circle cx="437.78" cy="268.29" r="0.85" fill="#000"/><circle cx="431.42" cy="268.29" r="0.85" fill="#000"/><circle cx="437.78" cy="264.91" r="0.85" fill="#000"/>
<rect x="404.0" y="272.7" width="52.9" height="3" fill="#000"/>
<path d="M430.00,278.70 L430.00,285.90 M426.82,280.61 L433.18,283.99 M426.82,283.99 L433.18,280.61" stroke="#000" stroke-width="1.15" fill="none"/><circle cx="430.00" cy="278.70" r="0.85" fill="#000"/><circle cx="430.00" cy="285.90" r="0.85" fill="#000"/><circle cx="426.82" cy="280.61" r="0.85" fill="#000"/><circle cx="433.18" cy="283.99" r="0.85" fill="#000"/><circle cx="426.82" cy="283.99" r="0.85" fill="#000"/><circle cx="433.18" cy="280.61" r="0.85" fill="#000"/>
<path d="M440.30,278.70 L440.30,285.90 M437.12,280.61 L443.48,283.99 M437.12,283.99 L443.48,280.61" stroke="#000" stroke-width="1.15" fill="none"/><circle cx="440.30" cy="278.70" r="0.85" fill="#000"/><circle cx="440.30" cy="285.90" r="0.85" fill="#000"/><circle cx="437.12" cy="280.61" r="0.85" fill="#000"/><circle cx="443.48" cy="283.99" r="0.85" fill="#000"/><circle cx="437.12" cy="283.99" r="0.85" fill="#000"/><circle cx="443.48" cy="280.61" r="0.85" fill="#000"/>
<path d="M450.50,278.70 L450.50,285.90 M447.32,280.61 L453.68,283.99 M447.32,283.99 L453.68,280.61" stroke="#000" stroke-width="1.15" fill="none"/><circle cx="450.50" cy="278.70" r="0.85" fill="#000"/><circle cx="450.50" cy="285.90" r="0.85" fill="#000"/><circle cx="447.32" cy="280.61" r="0.85" fill="#000"/><circle cx="453.68" cy="283.99" r="0.85" fill="#000"/><circle cx="447.32" cy="283.99" r="0.85" fill="#000"/><circle cx="453.68" cy="280.61" r="0.85" fill="#000"/>
<rect x="423.4" y="288.1" width="32.5" height="3" fill="#000"/>
<rect x="404.4" y="296.7" width="33.0" height="3" fill="#000"/>
<rect x="423.4" y="304.4" width="15.0" height="3" fill="#000"/>
<rect x="404.8" y="311.2" width="17.1" height="3" fill="#000"/>
<rect x="440.5" y="311.2" width="15.0" height="3" fill="#000"/>
<text transform="translate(431.30 435.90) scale(1 1.040)" font-size="15.0" font-weight="bold" fill="#000" text-anchor="middle" font-family="'Liberation Sans', sans-serif" >CD80</text>
<rect x="494.2" y="366.9" width="13.8" height="46.1" fill="#c0c0c0"/>
<rect x="498.7" y="364.9" width="4.8" height="3" fill="#111"/>
<rect x="511.4" y="361.7" width="13.8" height="51.3" fill="url(#ck4)"/>
<rect x="515.9" y="359.7" width="4.8" height="3" fill="#111"/>
<rect x="528.6" y="361.0" width="13.8" height="52.0" fill="url(#dt4)"/>
<rect x="533.1" y="359.0" width="4.8" height="3" fill="#111"/>
<rect x="546.5" y="330.9" width="12.4" height="82.1" fill="#7f7f7f" stroke="#3a3a3a" stroke-width="1.4"/>
<rect x="550.3" y="328.2" width="4.8" height="3" fill="#111"/>
<path d="M515.80,298.00 L515.80,305.20 M512.62,299.91 L518.98,303.29 M512.62,303.29 L518.98,299.91" stroke="#000" stroke-width="1.15" fill="none"/><circle cx="515.80" cy="298.00" r="0.85" fill="#000"/><circle cx="515.80" cy="305.20" r="0.85" fill="#000"/><circle cx="512.62" cy="299.91" r="0.85" fill="#000"/><circle cx="518.98" cy="303.29" r="0.85" fill="#000"/><circle cx="512.62" cy="303.29" r="0.85" fill="#000"/><circle cx="518.98" cy="299.91" r="0.85" fill="#000"/>
<path d="M526.00,298.00 L526.00,305.20 M522.82,299.91 L529.18,303.29 M522.82,303.29 L529.18,299.91" stroke="#000" stroke-width="1.15" fill="none"/><circle cx="526.00" cy="298.00" r="0.85" fill="#000"/><circle cx="526.00" cy="305.20" r="0.85" fill="#000"/><circle cx="522.82" cy="299.91" r="0.85" fill="#000"/><circle cx="529.18" cy="303.29" r="0.85" fill="#000"/><circle cx="522.82" cy="303.29" r="0.85" fill="#000"/><circle cx="529.18" cy="299.91" r="0.85" fill="#000"/>
<path d="M536.20,298.00 L536.20,305.20 M533.02,299.91 L539.38,303.29 M533.02,303.29 L539.38,299.91" stroke="#000" stroke-width="1.15" fill="none"/><circle cx="536.20" cy="298.00" r="0.85" fill="#000"/><circle cx="536.20" cy="305.20" r="0.85" fill="#000"/><circle cx="533.02" cy="299.91" r="0.85" fill="#000"/><circle cx="539.38" cy="303.29" r="0.85" fill="#000"/><circle cx="533.02" cy="303.29" r="0.85" fill="#000"/><circle cx="539.38" cy="299.91" r="0.85" fill="#000"/>
<rect x="498.8" y="308.3" width="52.6" height="3" fill="#000"/>
<rect x="518.0" y="314.9" width="33.4" height="3" fill="#000"/>
<rect x="533.8" y="321.5" width="17.6" height="3" fill="#000"/>
<path d="M513.80,335.30 L513.80,342.50 M510.62,337.21 L516.98,340.59 M510.62,340.59 L516.98,337.21" stroke="#000" stroke-width="1.15" fill="none"/><circle cx="513.80" cy="335.30" r="0.85" fill="#000"/><circle cx="513.80" cy="342.50" r="0.85" fill="#000"/><circle cx="510.62" cy="337.21" r="0.85" fill="#000"/><circle cx="516.98" cy="340.59" r="0.85" fill="#000"/><circle cx="510.62" cy="340.59" r="0.85" fill="#000"/><circle cx="516.98" cy="337.21" r="0.85" fill="#000"/>
<rect x="497.0" y="344.5" width="33.0" height="3" fill="#000"/>
<rect x="497.0" y="351.5" width="17.3" height="3" fill="#000"/>
<text transform="translate(526.90 435.90) scale(1 1.040)" font-size="15.0" font-weight="bold" fill="#000" text-anchor="middle" font-family="'Liberation Sans', sans-serif" >CD86</text>
<line x1="92" y1="413" x2="575.6" y2="413" stroke="#868686" stroke-width="1.8"/>
<line x1="144.5" y1="413" x2="144.5" y2="416.8" stroke="#868686" stroke-width="1.4"/>
<line x1="240.1" y1="413" x2="240.1" y2="416.8" stroke="#868686" stroke-width="1.4"/>
<line x1="335.7" y1="413" x2="335.7" y2="416.8" stroke="#868686" stroke-width="1.4"/>
<line x1="431.3" y1="413" x2="431.3" y2="416.8" stroke="#868686" stroke-width="1.4"/>
<line x1="526.9" y1="413" x2="526.9" y2="416.8" stroke="#868686" stroke-width="1.4"/>
<line x1="574.8" y1="413" x2="574.8" y2="416.8" stroke="#868686" stroke-width="1.8"/>
<line x1="96.6" y1="277.2" x2="96.6" y2="413.5" stroke="#000" stroke-width="2"/>
<line x1="92" y1="413.00" x2="96.6" y2="413.00" stroke="#000" stroke-width="2"/>
<line x1="96.6" y1="397.95" x2="100" y2="397.95" stroke="#000" stroke-width="1.6"/>
<line x1="96.6" y1="389.14" x2="100" y2="389.14" stroke="#000" stroke-width="1.6"/>
<line x1="96.6" y1="382.90" x2="100" y2="382.90" stroke="#000" stroke-width="1.6"/>
<line x1="96.6" y1="378.05" x2="100" y2="378.05" stroke="#000" stroke-width="1.6"/>
<line x1="96.6" y1="374.09" x2="100" y2="374.09" stroke="#000" stroke-width="1.6"/>
<line x1="96.6" y1="370.75" x2="100" y2="370.75" stroke="#000" stroke-width="1.6"/>
<line x1="96.6" y1="367.85" x2="100" y2="367.85" stroke="#000" stroke-width="1.6"/>
<line x1="96.6" y1="365.29" x2="100" y2="365.29" stroke="#000" stroke-width="1.6"/>
<line x1="92" y1="363.00" x2="99.6" y2="363.00" stroke="#000" stroke-width="2"/>
<line x1="96.6" y1="347.95" x2="100" y2="347.95" stroke="#000" stroke-width="1.6"/>
<line x1="96.6" y1="339.14" x2="100" y2="339.14" stroke="#000" stroke-width="1.6"/>
<line x1="96.6" y1="332.90" x2="100" y2="332.90" stroke="#000" stroke-width="1.6"/>
<line x1="96.6" y1="328.05" x2="100" y2="328.05" stroke="#000" stroke-width="1.6"/>
<line x1="96.6" y1="324.09" x2="100" y2="324.09" stroke="#000" stroke-width="1.6"/>
<line x1="96.6" y1="320.75" x2="100" y2="320.75" stroke="#000" stroke-width="1.6"/>
<line x1="96.6" y1="317.85" x2="100" y2="317.85" stroke="#000" stroke-width="1.6"/>
<line x1="96.6" y1="315.29" x2="100" y2="315.29" stroke="#000" stroke-width="1.6"/>
<line x1="92" y1="313.00" x2="99.6" y2="313.00" stroke="#000" stroke-width="2"/>
<line x1="96.6" y1="297.95" x2="100" y2="297.95" stroke="#000" stroke-width="1.6"/>
<line x1="96.6" y1="289.14" x2="100" y2="289.14" stroke="#000" stroke-width="1.6"/>
<line x1="96.6" y1="282.90" x2="100" y2="282.90" stroke="#000" stroke-width="1.6"/>
<line x1="96.6" y1="278.05" x2="100" y2="278.05" stroke="#000" stroke-width="1.6"/>
<text transform="translate(83.00 317.90) scale(1 1.040)" font-size="15.0" font-weight="bold" fill="#000" text-anchor="end" font-family="'Liberation Sans', sans-serif" >10000</text>
<text transform="translate(83.00 368.40) scale(1 1.040)" font-size="15.0" font-weight="bold" fill="#000" text-anchor="end" font-family="'Liberation Sans', sans-serif" >1000</text>
<text transform="translate(83.00 417.90) scale(1 1.040)" font-size="15.0" font-weight="bold" fill="#000" text-anchor="end" font-family="'Liberation Sans', sans-serif" >100</text>
<text transform="translate(36.00 344.50) rotate(-90) scale(1 1.040)" font-size="15.0" font-weight="bold" fill="#000" text-anchor="middle" font-family="'Liberation Sans', sans-serif" >Expression (MFI)</text>
<rect x="583.3" y="281.4" width="7.2" height="7" fill="#c0c0c0"/>
<text transform="translate(594.20 289.70) scale(1 1.040)" font-size="15.0" font-weight="bold" fill="#000" text-anchor="start" font-family="'Liberation Sans', sans-serif" word-spacing="1">Control</text>
<rect x="583.3" y="305.2" width="7.2" height="7" fill="url(#ckL)"/>
<text transform="translate(594.20 314.00) scale(1 1.040)" font-size="15.0" font-weight="bold" fill="#000" text-anchor="start" font-family="'Liberation Sans', sans-serif" word-spacing="1">NPS</text>
<rect x="583.3" y="329.8" width="7.2" height="7" fill="url(#dtL)"/>
<text transform="translate(594.20 338.30) scale(1 1.040)" font-size="15.0" font-weight="bold" fill="#000" text-anchor="start" font-family="'Liberation Sans', sans-serif" word-spacing="1">NPS + Trolox</text>
<rect x="583.9" y="355.3" width="6" height="6" fill="#7f7f7f" stroke="#3a3a3a" stroke-width="1.2"/>
<text transform="translate(594.20 362.50) scale(1 1.040)" font-size="15.0" font-weight="bold" fill="#000" text-anchor="start" font-family="'Liberation Sans', sans-serif" word-spacing="1">LPS</text>
</svg>
</body></html>
